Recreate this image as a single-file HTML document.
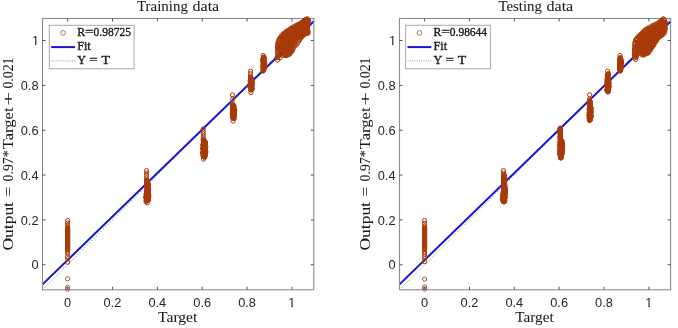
<!DOCTYPE html>
<html><head><meta charset="utf-8"><title>Regression plots</title>
<style>html,body{margin:0;padding:0;background:#fff;width:678px;height:328px;overflow:hidden}svg{display:block}</style>
</head><body>
<svg width="678" height="328" viewBox="0 0 678 328">
<rect width="678" height="328" fill="#fff"/>
<line x1="42.53" y1="289.87" x2="313.88" y2="18.52" stroke="#6e6e6e" stroke-width="1" stroke-dasharray="1 2.3"/>
<line x1="42.53" y1="284.4" x2="313.88" y2="21.2" stroke="#1414d4" stroke-width="2"/>
<rect x="42.5" y="18.5" width="271.25" height="271.25" fill="none" stroke="#8c8c8c" stroke-width="1.1"/>
<path d="M67.65 289.75v-3M67.65 18.5v3M42.5 264.75h3M313.75 264.75h-3M112.5 289.75v-3M112.5 18.5v3M42.5 219.9h3M313.75 219.9h-3M157.35 289.75v-3M157.35 18.5v3M42.5 175.05h3M313.75 175.05h-3M202.2 289.75v-3M202.2 18.5v3M42.5 130.2h3M313.75 130.2h-3M247.05 289.75v-3M247.05 18.5v3M42.5 85.35h3M313.75 85.35h-3M291.9 289.75v-3M291.9 18.5v3M42.5 40.5h3M313.75 40.5h-3" stroke="#555" stroke-width="1" fill="none"/>
<g fill="none" stroke="#a83a08" stroke-width="1.0"><circle cx="67.65" cy="220.5" r="2.1"/><circle cx="67.65" cy="223" r="2.1"/><circle cx="67.65" cy="225.4" r="2.1"/><circle cx="67.65" cy="227.2" r="2.1"/><circle cx="67.65" cy="227.8" r="2.1"/><circle cx="67.65" cy="228.4" r="2.1"/><circle cx="67.65" cy="229" r="2.1"/><circle cx="67.65" cy="229.6" r="2.1"/><circle cx="67.65" cy="230.2" r="2.1"/><circle cx="67.65" cy="230.8" r="2.1"/><circle cx="67.65" cy="231.4" r="2.1"/><circle cx="67.65" cy="232" r="2.1"/><circle cx="67.65" cy="232.6" r="2.1"/><circle cx="67.65" cy="233.2" r="2.1"/><circle cx="67.65" cy="233.8" r="2.1"/><circle cx="67.65" cy="234.4" r="2.1"/><circle cx="67.65" cy="235" r="2.1"/><circle cx="67.65" cy="235.6" r="2.1"/><circle cx="67.65" cy="236.2" r="2.1"/><circle cx="67.65" cy="236.8" r="2.1"/><circle cx="67.65" cy="237.4" r="2.1"/><circle cx="67.65" cy="238" r="2.1"/><circle cx="67.65" cy="238.6" r="2.1"/><circle cx="67.65" cy="239.2" r="2.1"/><circle cx="67.65" cy="239.8" r="2.1"/><circle cx="67.65" cy="240.4" r="2.1"/><circle cx="67.65" cy="241" r="2.1"/><circle cx="67.65" cy="241.6" r="2.1"/><circle cx="67.65" cy="242.2" r="2.1"/><circle cx="67.65" cy="242.8" r="2.1"/><circle cx="67.65" cy="243.4" r="2.1"/><circle cx="67.65" cy="244" r="2.1"/><circle cx="67.65" cy="244.6" r="2.1"/><circle cx="67.65" cy="245.2" r="2.1"/><circle cx="67.65" cy="245.8" r="2.1"/><circle cx="67.65" cy="246.4" r="2.1"/><circle cx="67.65" cy="247" r="2.1"/><circle cx="67.65" cy="247.6" r="2.1"/><circle cx="67.65" cy="248.2" r="2.1"/><circle cx="67.65" cy="248.8" r="2.1"/><circle cx="67.65" cy="249.4" r="2.1"/><circle cx="67.65" cy="250" r="2.1"/><circle cx="67.65" cy="251.9" r="2.1"/><circle cx="67.65" cy="253.8" r="2.1"/><circle cx="67.65" cy="256.8" r="2.1"/><circle cx="67.65" cy="258.8" r="2.1"/><circle cx="67.65" cy="262.3" r="2.1"/><circle cx="146.5" cy="170.6" r="2.1"/><circle cx="146.6" cy="173" r="2.1"/><circle cx="146.5" cy="175.4" r="2.1"/><circle cx="146.6" cy="177.8" r="2.1"/><circle cx="146.7" cy="180" r="2.1"/><circle cx="147.01" cy="180.71" r="2.1"/><circle cx="146.92" cy="180.5" r="2.1"/><circle cx="146.7" cy="181.01" r="2.1"/><circle cx="147.17" cy="181.15" r="2.1"/><circle cx="146.9" cy="181.3" r="2.1"/><circle cx="147.48" cy="181.6" r="2.1"/><circle cx="147.79" cy="182.23" r="2.1"/><circle cx="147.39" cy="182.06" r="2.1"/><circle cx="146.67" cy="182.51" r="2.1"/><circle cx="146.73" cy="182.35" r="2.1"/><circle cx="146.74" cy="182.98" r="2.1"/><circle cx="147.3" cy="183.17" r="2.1"/><circle cx="147.66" cy="183.5" r="2.1"/><circle cx="147.7" cy="183.48" r="2.1"/><circle cx="148.3" cy="184.25" r="2.1"/><circle cx="148.06" cy="184.1" r="2.1"/><circle cx="147.15" cy="184.39" r="2.1"/><circle cx="146.91" cy="184.63" r="2.1"/><circle cx="148.1" cy="184.94" r="2.1"/><circle cx="148.27" cy="185.17" r="2.1"/><circle cx="147.13" cy="185.71" r="2.1"/><circle cx="147.53" cy="185.74" r="2.1"/><circle cx="147.42" cy="185.29" r="2.1"/><circle cx="148.02" cy="185.88" r="2.1"/><circle cx="146.94" cy="185.92" r="2.1"/><circle cx="148" cy="186.31" r="2.1"/><circle cx="147.19" cy="186.3" r="2.1"/><circle cx="148.08" cy="186.84" r="2.1"/><circle cx="147.7" cy="186.97" r="2.1"/><circle cx="147.11" cy="187.12" r="2.1"/><circle cx="147.84" cy="187.31" r="2.1"/><circle cx="147.48" cy="187.36" r="2.1"/><circle cx="147.24" cy="187.74" r="2.1"/><circle cx="147.3" cy="188.19" r="2.1"/><circle cx="147.15" cy="187.95" r="2.1"/><circle cx="147.86" cy="188.3" r="2.1"/><circle cx="148.44" cy="188.36" r="2.1"/><circle cx="148.09" cy="188.91" r="2.1"/><circle cx="147.3" cy="188.79" r="2.1"/><circle cx="146.95" cy="189.04" r="2.1"/><circle cx="147.82" cy="189.44" r="2.1"/><circle cx="147.57" cy="189.73" r="2.1"/><circle cx="147.62" cy="189.54" r="2.1"/><circle cx="147.08" cy="189.83" r="2.1"/><circle cx="148.36" cy="190.16" r="2.1"/><circle cx="147.03" cy="190.62" r="2.1"/><circle cx="148.43" cy="190.35" r="2.1"/><circle cx="148.45" cy="190.69" r="2.1"/><circle cx="147.43" cy="190.8" r="2.1"/><circle cx="146.68" cy="191.23" r="2.1"/><circle cx="147.99" cy="191.38" r="2.1"/><circle cx="148.23" cy="191.55" r="2.1"/><circle cx="147.14" cy="191.34" r="2.1"/><circle cx="146.6" cy="191.86" r="2.1"/><circle cx="147.67" cy="192.18" r="2.1"/><circle cx="147.02" cy="192.71" r="2.1"/><circle cx="146.84" cy="192.26" r="2.1"/><circle cx="146.99" cy="192.47" r="2.1"/><circle cx="146.72" cy="192.93" r="2.1"/><circle cx="147.66" cy="192.82" r="2.1"/><circle cx="147.16" cy="193.2" r="2.1"/><circle cx="147.86" cy="193.6" r="2.1"/><circle cx="147.68" cy="193.32" r="2.1"/><circle cx="146.2" cy="194.21" r="2.1"/><circle cx="147.96" cy="194.23" r="2.1"/><circle cx="146.21" cy="194.07" r="2.1"/><circle cx="148.04" cy="194.41" r="2.1"/><circle cx="148.76" cy="194.29" r="2.1"/><circle cx="147.54" cy="194.62" r="2.1"/><circle cx="148.06" cy="195.1" r="2.1"/><circle cx="148.21" cy="195.21" r="2.1"/><circle cx="146.98" cy="195.09" r="2.1"/><circle cx="148.45" cy="195.46" r="2.1"/><circle cx="148.21" cy="195.68" r="2.1"/><circle cx="147.58" cy="195.56" r="2.1"/><circle cx="147.6" cy="196.05" r="2.1"/><circle cx="146.09" cy="196.07" r="2.1"/><circle cx="148.83" cy="196.19" r="2.1"/><circle cx="146.98" cy="196.62" r="2.1"/><circle cx="147.57" cy="196.47" r="2.1"/><circle cx="148.37" cy="196.29" r="2.1"/><circle cx="145.8" cy="197.05" r="2.1"/><circle cx="147.24" cy="196.87" r="2.1"/><circle cx="147.93" cy="197" r="2.1"/><circle cx="148.6" cy="197.38" r="2.1"/><circle cx="145.78" cy="197.4" r="2.1"/><circle cx="147.85" cy="197.35" r="2.1"/><circle cx="148.51" cy="198.08" r="2.1"/><circle cx="147.11" cy="198.2" r="2.1"/><circle cx="146.77" cy="198.08" r="2.1"/><circle cx="146.38" cy="197.97" r="2.1"/><circle cx="148.48" cy="198.69" r="2.1"/><circle cx="146.94" cy="198.54" r="2.1"/><circle cx="146.75" cy="198.32" r="2.1"/><circle cx="148.22" cy="199.17" r="2.1"/><circle cx="147.87" cy="199.23" r="2.1"/><circle cx="146.64" cy="198.83" r="2.1"/><circle cx="146.66" cy="199.36" r="2.1"/><circle cx="147.03" cy="199.56" r="2.1"/><circle cx="147.25" cy="199.41" r="2.1"/><circle cx="148.52" cy="199.98" r="2.1"/><circle cx="146.15" cy="199.77" r="2.1"/><circle cx="148.23" cy="199.77" r="2.1"/><circle cx="147.43" cy="200.4" r="2.1"/><circle cx="147.99" cy="200.26" r="2.1"/><circle cx="146.33" cy="200.48" r="2.1"/><circle cx="147.3" cy="202.9" r="2.1"/><circle cx="146" cy="201.8" r="2.1"/><circle cx="203.2" cy="129" r="2.1"/><circle cx="203.3" cy="131.4" r="2.1"/><circle cx="203.2" cy="133.8" r="2.1"/><circle cx="203.3" cy="136.2" r="2.1"/><circle cx="203.3" cy="138.5" r="2.1"/><circle cx="203.91" cy="139.87" r="2.1"/><circle cx="203.15" cy="139.77" r="2.1"/><circle cx="203.64" cy="140.56" r="2.1"/><circle cx="203.93" cy="140.65" r="2.1"/><circle cx="204.2" cy="140.85" r="2.1"/><circle cx="203.83" cy="140.84" r="2.1"/><circle cx="203.98" cy="141.61" r="2.1"/><circle cx="203.37" cy="141.39" r="2.1"/><circle cx="203.72" cy="141.6" r="2.1"/><circle cx="204.48" cy="142.13" r="2.1"/><circle cx="203.95" cy="142.15" r="2.1"/><circle cx="205.18" cy="141.79" r="2.1"/><circle cx="204.88" cy="142.31" r="2.1"/><circle cx="204.18" cy="142.56" r="2.1"/><circle cx="205.38" cy="142.44" r="2.1"/><circle cx="205.32" cy="143.15" r="2.1"/><circle cx="205.49" cy="142.98" r="2.1"/><circle cx="204.71" cy="142.85" r="2.1"/><circle cx="205.18" cy="143.57" r="2.1"/><circle cx="204.9" cy="143.36" r="2.1"/><circle cx="205.4" cy="143.74" r="2.1"/><circle cx="204.4" cy="144.15" r="2.1"/><circle cx="203.79" cy="144.2" r="2.1"/><circle cx="205.3" cy="143.92" r="2.1"/><circle cx="204.13" cy="144.53" r="2.1"/><circle cx="205.07" cy="144.49" r="2.1"/><circle cx="202.94" cy="144.65" r="2.1"/><circle cx="203.04" cy="144.65" r="2.1"/><circle cx="203.81" cy="145.14" r="2.1"/><circle cx="203.24" cy="144.82" r="2.1"/><circle cx="204.35" cy="145.11" r="2.1"/><circle cx="205.3" cy="145.09" r="2.1"/><circle cx="204.28" cy="145.72" r="2.1"/><circle cx="203.05" cy="145.36" r="2.1"/><circle cx="204.38" cy="145.4" r="2.1"/><circle cx="204.73" cy="146.01" r="2.1"/><circle cx="205.36" cy="146.03" r="2.1"/><circle cx="203.72" cy="145.94" r="2.1"/><circle cx="205.56" cy="146.35" r="2.1"/><circle cx="205.4" cy="146.73" r="2.1"/><circle cx="204.38" cy="146.54" r="2.1"/><circle cx="204.41" cy="147" r="2.1"/><circle cx="204.64" cy="146.76" r="2.1"/><circle cx="205.8" cy="147.01" r="2.1"/><circle cx="203.98" cy="147.15" r="2.1"/><circle cx="204.27" cy="147.6" r="2.1"/><circle cx="202.91" cy="147.52" r="2.1"/><circle cx="204.02" cy="147.73" r="2.1"/><circle cx="203.56" cy="147.99" r="2.1"/><circle cx="203.11" cy="147.97" r="2.1"/><circle cx="205.31" cy="148.2" r="2.1"/><circle cx="203.72" cy="148.35" r="2.1"/><circle cx="204.68" cy="148.71" r="2.1"/><circle cx="203.11" cy="148.64" r="2.1"/><circle cx="202.77" cy="148.35" r="2.1"/><circle cx="204.9" cy="148.91" r="2.1"/><circle cx="203.84" cy="149.06" r="2.1"/><circle cx="203.04" cy="149.12" r="2.1"/><circle cx="203.09" cy="149.01" r="2.1"/><circle cx="203.33" cy="149.52" r="2.1"/><circle cx="204.1" cy="149.44" r="2.1"/><circle cx="204.02" cy="149.51" r="2.1"/><circle cx="203.21" cy="149.35" r="2.1"/><circle cx="204.74" cy="150.01" r="2.1"/><circle cx="205.42" cy="150.06" r="2.1"/><circle cx="205.44" cy="149.87" r="2.1"/><circle cx="205.29" cy="150.7" r="2.1"/><circle cx="203.71" cy="150.41" r="2.1"/><circle cx="205.65" cy="150.36" r="2.1"/><circle cx="205.54" cy="150.82" r="2.1"/><circle cx="203.47" cy="151.11" r="2.1"/><circle cx="203.53" cy="150.8" r="2.1"/><circle cx="204.05" cy="151.64" r="2.1"/><circle cx="203.1" cy="151.45" r="2.1"/><circle cx="204.89" cy="151.26" r="2.1"/><circle cx="204.88" cy="152.21" r="2.1"/><circle cx="205.8" cy="151.81" r="2.1"/><circle cx="204.32" cy="152.13" r="2.1"/><circle cx="204.31" cy="152.09" r="2.1"/><circle cx="202.93" cy="152.3" r="2.1"/><circle cx="202.82" cy="152.53" r="2.1"/><circle cx="204.35" cy="152.53" r="2.1"/><circle cx="203.17" cy="152.34" r="2.1"/><circle cx="205.39" cy="153.25" r="2.1"/><circle cx="205.67" cy="152.8" r="2.1"/><circle cx="202.9" cy="153.23" r="2.1"/><circle cx="204.18" cy="153.13" r="2.1"/><circle cx="204.15" cy="153.51" r="2.1"/><circle cx="204.04" cy="153.55" r="2.1"/><circle cx="202.77" cy="153.6" r="2.1"/><circle cx="205.29" cy="153.34" r="2.1"/><circle cx="204.88" cy="153.95" r="2.1"/><circle cx="203.33" cy="153.83" r="2.1"/><circle cx="204.23" cy="153.76" r="2.1"/><circle cx="204.96" cy="154.6" r="2.1"/><circle cx="205.12" cy="154.56" r="2.1"/><circle cx="203.89" cy="154.55" r="2.1"/><circle cx="205.31" cy="155.15" r="2.1"/><circle cx="203.49" cy="155.21" r="2.1"/><circle cx="204.71" cy="155.14" r="2.1"/><circle cx="203.82" cy="155.7" r="2.1"/><circle cx="204.94" cy="155.6" r="2.1"/><circle cx="204.67" cy="155.63" r="2.1"/><circle cx="204.48" cy="155.79" r="2.1"/><circle cx="203.65" cy="155.98" r="2.1"/><circle cx="202.93" cy="155.93" r="2.1"/><circle cx="204.19" cy="156.37" r="2.1"/><circle cx="204.83" cy="156.58" r="2.1"/><circle cx="204.18" cy="157.03" r="2.1"/><circle cx="203.95" cy="156.94" r="2.1"/><circle cx="204.81" cy="157.07" r="2.1"/><circle cx="203.5" cy="159.2" r="2.1"/><circle cx="232.4" cy="94.9" r="2.1"/><circle cx="232.7" cy="98.9" r="2.1"/><circle cx="232.2" cy="102.8" r="2.1"/><circle cx="233.1" cy="121" r="2.1"/><circle cx="233.24" cy="105.04" r="2.1"/><circle cx="232.43" cy="104.86" r="2.1"/><circle cx="232.72" cy="105.25" r="2.1"/><circle cx="232.46" cy="105.15" r="2.1"/><circle cx="232.54" cy="105.68" r="2.1"/><circle cx="233.65" cy="105.83" r="2.1"/><circle cx="233.88" cy="106.33" r="2.1"/><circle cx="233.92" cy="106.37" r="2.1"/><circle cx="232.53" cy="106.85" r="2.1"/><circle cx="233.67" cy="106.57" r="2.1"/><circle cx="232.69" cy="107.29" r="2.1"/><circle cx="232.71" cy="107.3" r="2.1"/><circle cx="232.51" cy="108.02" r="2.1"/><circle cx="233.22" cy="107.81" r="2.1"/><circle cx="233.17" cy="108.19" r="2.1"/><circle cx="233.78" cy="108.33" r="2.1"/><circle cx="233" cy="108.41" r="2.1"/><circle cx="232.43" cy="108.67" r="2.1"/><circle cx="232.5" cy="108.63" r="2.1"/><circle cx="234.09" cy="108.74" r="2.1"/><circle cx="234.12" cy="109.08" r="2.1"/><circle cx="234.67" cy="109.52" r="2.1"/><circle cx="234.48" cy="109.76" r="2.1"/><circle cx="233.49" cy="110.04" r="2.1"/><circle cx="232.95" cy="109.81" r="2.1"/><circle cx="234.06" cy="110.28" r="2.1"/><circle cx="234.65" cy="110.46" r="2.1"/><circle cx="232.64" cy="110.86" r="2.1"/><circle cx="233.43" cy="110.65" r="2.1"/><circle cx="232.49" cy="110.81" r="2.1"/><circle cx="233.4" cy="111.38" r="2.1"/><circle cx="233.43" cy="111.18" r="2.1"/><circle cx="233.72" cy="111.26" r="2.1"/><circle cx="233.6" cy="112.05" r="2.1"/><circle cx="234.59" cy="111.92" r="2.1"/><circle cx="232.91" cy="111.61" r="2.1"/><circle cx="234.19" cy="112.36" r="2.1"/><circle cx="233.19" cy="112.19" r="2.1"/><circle cx="233.67" cy="112.85" r="2.1"/><circle cx="233.83" cy="112.93" r="2.1"/><circle cx="232.79" cy="112.67" r="2.1"/><circle cx="234.5" cy="113.49" r="2.1"/><circle cx="232.42" cy="113.08" r="2.1"/><circle cx="233.33" cy="113.86" r="2.1"/><circle cx="232.56" cy="113.82" r="2.1"/><circle cx="232.49" cy="113.59" r="2.1"/><circle cx="233.63" cy="114.37" r="2.1"/><circle cx="233.2" cy="114.29" r="2.1"/><circle cx="232.81" cy="114.22" r="2.1"/><circle cx="234.31" cy="114.59" r="2.1"/><circle cx="232.59" cy="114.95" r="2.1"/><circle cx="233.8" cy="114.93" r="2.1"/><circle cx="233.31" cy="115.18" r="2.1"/><circle cx="234.21" cy="115.23" r="2.1"/><circle cx="233.84" cy="115.54" r="2.1"/><circle cx="233.57" cy="115.92" r="2.1"/><circle cx="234.39" cy="115.76" r="2.1"/><circle cx="233.18" cy="115.6" r="2.1"/><circle cx="232.57" cy="116.09" r="2.1"/><circle cx="233.58" cy="116.29" r="2.1"/><circle cx="233.03" cy="116.94" r="2.1"/><circle cx="232.6" cy="116.66" r="2.1"/><circle cx="232.64" cy="117.2" r="2.1"/><circle cx="233.81" cy="117.4" r="2.1"/><circle cx="232.78" cy="117.73" r="2.1"/><circle cx="233.77" cy="117.73" r="2.1"/><circle cx="232.73" cy="117.9" r="2.1"/><circle cx="234.02" cy="118.52" r="2.1"/><circle cx="234.01" cy="118.27" r="2.1"/><circle cx="250.6" cy="71.2" r="2.1"/><circle cx="250.5" cy="73.6" r="2.1"/><circle cx="250.4" cy="76" r="2.1"/><circle cx="250.8" cy="77.71" r="2.1"/><circle cx="251.52" cy="78.5" r="2.1"/><circle cx="250.72" cy="78.23" r="2.1"/><circle cx="250.84" cy="78.75" r="2.1"/><circle cx="250.87" cy="78.65" r="2.1"/><circle cx="251.47" cy="79.32" r="2.1"/><circle cx="251.53" cy="79.33" r="2.1"/><circle cx="251.47" cy="79.99" r="2.1"/><circle cx="250.69" cy="79.56" r="2.1"/><circle cx="251.07" cy="79.82" r="2.1"/><circle cx="251.9" cy="80.38" r="2.1"/><circle cx="251.6" cy="80.08" r="2.1"/><circle cx="251.63" cy="80.59" r="2.1"/><circle cx="250.2" cy="80.92" r="2.1"/><circle cx="251.86" cy="80.59" r="2.1"/><circle cx="250.26" cy="81.42" r="2.1"/><circle cx="251.38" cy="81.17" r="2.1"/><circle cx="250.43" cy="81.43" r="2.1"/><circle cx="251.69" cy="81.75" r="2.1"/><circle cx="250.66" cy="82.03" r="2.1"/><circle cx="251.47" cy="81.8" r="2.1"/><circle cx="251.61" cy="82.4" r="2.1"/><circle cx="252.09" cy="82.26" r="2.1"/><circle cx="251.87" cy="82.38" r="2.1"/><circle cx="251.83" cy="82.97" r="2.1"/><circle cx="252.03" cy="83.03" r="2.1"/><circle cx="251.42" cy="82.81" r="2.1"/><circle cx="251.82" cy="83.26" r="2.1"/><circle cx="250.9" cy="83.12" r="2.1"/><circle cx="251.68" cy="83.55" r="2.1"/><circle cx="250.32" cy="83.65" r="2.1"/><circle cx="250.93" cy="83.7" r="2.1"/><circle cx="252.23" cy="83.58" r="2.1"/><circle cx="250.22" cy="84.37" r="2.1"/><circle cx="251.77" cy="84.14" r="2.1"/><circle cx="250.1" cy="84.28" r="2.1"/><circle cx="252.09" cy="84.57" r="2.1"/><circle cx="250.24" cy="84.64" r="2.1"/><circle cx="250.49" cy="84.67" r="2.1"/><circle cx="251.38" cy="85.16" r="2.1"/><circle cx="250.44" cy="85.19" r="2.1"/><circle cx="250.41" cy="85.43" r="2.1"/><circle cx="251.29" cy="85.96" r="2.1"/><circle cx="251.13" cy="85.68" r="2.1"/><circle cx="252.05" cy="86.01" r="2.1"/><circle cx="251.3" cy="86.53" r="2.1"/><circle cx="251.15" cy="86.16" r="2.1"/><circle cx="250.2" cy="86.52" r="2.1"/><circle cx="250.96" cy="86.81" r="2.1"/><circle cx="251.24" cy="86.69" r="2.1"/><circle cx="251.56" cy="87.17" r="2.1"/><circle cx="250.18" cy="87.29" r="2.1"/><circle cx="251.87" cy="87.91" r="2.1"/><circle cx="251.47" cy="87.63" r="2.1"/><circle cx="250.52" cy="87.71" r="2.1"/><circle cx="251.98" cy="88.31" r="2.1"/><circle cx="251.51" cy="88.55" r="2.1"/><circle cx="250.77" cy="88.32" r="2.1"/><circle cx="251.72" cy="88.55" r="2.1"/><circle cx="251.82" cy="88.97" r="2.1"/><circle cx="251.82" cy="88.59" r="2.1"/><circle cx="251.57" cy="89.1" r="2.1"/><circle cx="251.16" cy="89.28" r="2.1"/><circle cx="251.99" cy="89.34" r="2.1"/><circle cx="250.85" cy="89.94" r="2.1"/><circle cx="251.03" cy="90.01" r="2.1"/><circle cx="250.9" cy="92.6" r="2.1"/><circle cx="263.2" cy="55.5" r="2.1"/><circle cx="263.91" cy="57.15" r="2.1"/><circle cx="263.6" cy="57.31" r="2.1"/><circle cx="264" cy="57.71" r="2.1"/><circle cx="263.33" cy="57.59" r="2.1"/><circle cx="263.54" cy="58.41" r="2.1"/><circle cx="263.38" cy="58.39" r="2.1"/><circle cx="263.43" cy="58.78" r="2.1"/><circle cx="264.38" cy="58.96" r="2.1"/><circle cx="263.86" cy="58.56" r="2.1"/><circle cx="264.01" cy="59.17" r="2.1"/><circle cx="263.74" cy="59.28" r="2.1"/><circle cx="262.72" cy="59.55" r="2.1"/><circle cx="263.05" cy="59.86" r="2.1"/><circle cx="263.22" cy="59.74" r="2.1"/><circle cx="263.23" cy="60.22" r="2.1"/><circle cx="263.43" cy="60.38" r="2.1"/><circle cx="263.14" cy="60.15" r="2.1"/><circle cx="263.31" cy="61.02" r="2.1"/><circle cx="263.8" cy="60.91" r="2.1"/><circle cx="264.36" cy="61.1" r="2.1"/><circle cx="262.92" cy="61.1" r="2.1"/><circle cx="264.04" cy="61.4" r="2.1"/><circle cx="263.47" cy="61.97" r="2.1"/><circle cx="263.87" cy="61.6" r="2.1"/><circle cx="263.11" cy="61.63" r="2.1"/><circle cx="263.49" cy="62.09" r="2.1"/><circle cx="264.57" cy="62.26" r="2.1"/><circle cx="263.71" cy="62.37" r="2.1"/><circle cx="264.37" cy="62.74" r="2.1"/><circle cx="263.34" cy="62.76" r="2.1"/><circle cx="263.5" cy="63.4" r="2.1"/><circle cx="264.72" cy="63.44" r="2.1"/><circle cx="264.04" cy="63.35" r="2.1"/><circle cx="263.36" cy="63.72" r="2.1"/><circle cx="264.03" cy="63.6" r="2.1"/><circle cx="263.46" cy="63.8" r="2.1"/><circle cx="264.4" cy="64.36" r="2.1"/><circle cx="263" cy="64.43" r="2.1"/><circle cx="263.83" cy="64.73" r="2.1"/><circle cx="263.73" cy="64.62" r="2.1"/><circle cx="264.76" cy="65.31" r="2.1"/><circle cx="264.19" cy="65.47" r="2.1"/><circle cx="264.68" cy="65.86" r="2.1"/><circle cx="263.11" cy="65.59" r="2.1"/><circle cx="263.21" cy="65.84" r="2.1"/><circle cx="263.39" cy="66.51" r="2.1"/><circle cx="263.45" cy="66.28" r="2.1"/><circle cx="264.61" cy="66.62" r="2.1"/><circle cx="264.48" cy="66.82" r="2.1"/><circle cx="263.83" cy="66.83" r="2.1"/><circle cx="264.41" cy="67.55" r="2.1"/><circle cx="264.25" cy="67.35" r="2.1"/><circle cx="263.02" cy="67.46" r="2.1"/><circle cx="264.32" cy="67.67" r="2.1"/><circle cx="263.78" cy="67.97" r="2.1"/><circle cx="263.71" cy="68.09" r="2.1"/><circle cx="262.92" cy="68.14" r="2.1"/><circle cx="264.23" cy="68.88" r="2.1"/><circle cx="263.34" cy="68.89" r="2.1"/><circle cx="263.43" cy="69.35" r="2.1"/><circle cx="263.97" cy="69.06" r="2.1"/><circle cx="263.52" cy="69.62" r="2.1"/><circle cx="263.43" cy="69.83" r="2.1"/><circle cx="263.52" cy="70.18" r="2.1"/><circle cx="263.57" cy="70.22" r="2.1"/><circle cx="262.94" cy="70.89" r="2.1"/><circle cx="263.05" cy="71.03" r="2.1"/><circle cx="293.77" cy="34.62" r="2.1"/><circle cx="300.29" cy="27.74" r="2.1"/><circle cx="296.9" cy="29.46" r="2.1"/><circle cx="286.7" cy="35.32" r="2.1"/><circle cx="285.57" cy="55.36" r="2.1"/><circle cx="294.61" cy="31.15" r="2.1"/><circle cx="304.62" cy="25.8" r="2.1"/><circle cx="283.99" cy="47.74" r="2.1"/><circle cx="293.24" cy="48.58" r="2.1"/><circle cx="294.31" cy="46.65" r="2.1"/><circle cx="306.05" cy="33.75" r="2.1"/><circle cx="287.63" cy="45.96" r="2.1"/><circle cx="289.31" cy="54.22" r="2.1"/><circle cx="294.57" cy="44.38" r="2.1"/><circle cx="291.34" cy="38.37" r="2.1"/><circle cx="306.51" cy="28.52" r="2.1"/><circle cx="301.68" cy="22.89" r="2.1"/><circle cx="286.96" cy="51.8" r="2.1"/><circle cx="284.73" cy="41.35" r="2.1"/><circle cx="288.06" cy="35.24" r="2.1"/><circle cx="306.42" cy="24.31" r="2.1"/><circle cx="284.51" cy="32.91" r="2.1"/><circle cx="301.76" cy="27.18" r="2.1"/><circle cx="281.23" cy="39.31" r="2.1"/><circle cx="291.64" cy="35.63" r="2.1"/><circle cx="282.6" cy="41.61" r="2.1"/><circle cx="304.09" cy="34.68" r="2.1"/><circle cx="290.13" cy="46.29" r="2.1"/><circle cx="288.68" cy="36.9" r="2.1"/><circle cx="295.26" cy="38.86" r="2.1"/><circle cx="297.73" cy="37.1" r="2.1"/><circle cx="286.76" cy="31.86" r="2.1"/><circle cx="277.66" cy="46.16" r="2.1"/><circle cx="277.87" cy="48.79" r="2.1"/><circle cx="283.03" cy="38.27" r="2.1"/><circle cx="299.63" cy="34.58" r="2.1"/><circle cx="294.08" cy="42.54" r="2.1"/><circle cx="287.71" cy="40.93" r="2.1"/><circle cx="278.92" cy="46.57" r="2.1"/><circle cx="285.94" cy="32.75" r="2.1"/><circle cx="299.39" cy="35.04" r="2.1"/><circle cx="295.65" cy="25.62" r="2.1"/><circle cx="286.14" cy="36.03" r="2.1"/><circle cx="307.13" cy="32.52" r="2.1"/><circle cx="286.84" cy="33.52" r="2.1"/><circle cx="286.42" cy="40.65" r="2.1"/><circle cx="289.7" cy="30.45" r="2.1"/><circle cx="298.42" cy="27.23" r="2.1"/><circle cx="289.54" cy="45.82" r="2.1"/><circle cx="304.4" cy="27.59" r="2.1"/><circle cx="306.24" cy="26.02" r="2.1"/><circle cx="305.14" cy="19.93" r="2.1"/><circle cx="294.76" cy="32.01" r="2.1"/><circle cx="308.35" cy="22.3" r="2.1"/><circle cx="298.61" cy="25.69" r="2.1"/><circle cx="292.02" cy="31.47" r="2.1"/><circle cx="289.19" cy="43.87" r="2.1"/><circle cx="286.79" cy="42.52" r="2.1"/><circle cx="299.66" cy="23.7" r="2.1"/><circle cx="307.54" cy="28.91" r="2.1"/><circle cx="302.34" cy="27.92" r="2.1"/><circle cx="278.96" cy="39.7" r="2.1"/><circle cx="296.58" cy="26.32" r="2.1"/><circle cx="284.45" cy="52.98" r="2.1"/><circle cx="303.22" cy="25.97" r="2.1"/><circle cx="296.36" cy="27.95" r="2.1"/><circle cx="278.13" cy="43.45" r="2.1"/><circle cx="304.59" cy="21.18" r="2.1"/><circle cx="307.27" cy="31.3" r="2.1"/><circle cx="297.44" cy="28.57" r="2.1"/><circle cx="284.62" cy="48.13" r="2.1"/><circle cx="296.76" cy="34.8" r="2.1"/><circle cx="280.04" cy="37.76" r="2.1"/><circle cx="286.8" cy="31.63" r="2.1"/><circle cx="300.62" cy="36.5" r="2.1"/><circle cx="289.05" cy="30.83" r="2.1"/><circle cx="300.94" cy="37.82" r="2.1"/><circle cx="285.53" cy="42.89" r="2.1"/><circle cx="285.79" cy="41.16" r="2.1"/><circle cx="286.42" cy="50.19" r="2.1"/><circle cx="289.8" cy="30.97" r="2.1"/><circle cx="307.03" cy="29.48" r="2.1"/><circle cx="301.16" cy="31.79" r="2.1"/><circle cx="306.93" cy="21.96" r="2.1"/><circle cx="278.9" cy="43.12" r="2.1"/><circle cx="292.27" cy="32.75" r="2.1"/><circle cx="300.44" cy="29.09" r="2.1"/><circle cx="292.36" cy="50.62" r="2.1"/><circle cx="278.58" cy="56.19" r="2.1"/><circle cx="294.98" cy="33.18" r="2.1"/><circle cx="290.51" cy="45.92" r="2.1"/><circle cx="283.37" cy="53.07" r="2.1"/><circle cx="284.54" cy="46.78" r="2.1"/><circle cx="308.38" cy="21.31" r="2.1"/><circle cx="298.45" cy="36.51" r="2.1"/><circle cx="288.45" cy="38.23" r="2.1"/><circle cx="302.21" cy="27.7" r="2.1"/><circle cx="287.59" cy="31.79" r="2.1"/><circle cx="293.01" cy="34.88" r="2.1"/><circle cx="296.85" cy="34.8" r="2.1"/><circle cx="280.71" cy="47.06" r="2.1"/><circle cx="281.27" cy="35.92" r="2.1"/><circle cx="285.01" cy="54.61" r="2.1"/><circle cx="303.57" cy="23.59" r="2.1"/><circle cx="297.5" cy="32.99" r="2.1"/><circle cx="307.17" cy="32.91" r="2.1"/><circle cx="293.73" cy="26.73" r="2.1"/><circle cx="294.61" cy="28.2" r="2.1"/><circle cx="289.35" cy="46.73" r="2.1"/><circle cx="277.52" cy="48.38" r="2.1"/><circle cx="282.38" cy="43" r="2.1"/><circle cx="303.36" cy="21.25" r="2.1"/><circle cx="278.17" cy="43.34" r="2.1"/><circle cx="280.93" cy="43.78" r="2.1"/><circle cx="308" cy="31.08" r="2.1"/><circle cx="283.01" cy="40.45" r="2.1"/><circle cx="298.54" cy="24.66" r="2.1"/><circle cx="297.08" cy="35.33" r="2.1"/><circle cx="290.4" cy="39.83" r="2.1"/><circle cx="297.66" cy="24.66" r="2.1"/><circle cx="297.33" cy="37.95" r="2.1"/><circle cx="305.68" cy="19.58" r="2.1"/><circle cx="300.01" cy="25.64" r="2.1"/><circle cx="299.73" cy="39.67" r="2.1"/><circle cx="308.54" cy="20.09" r="2.1"/><circle cx="288.82" cy="44" r="2.1"/><circle cx="293.27" cy="34.78" r="2.1"/><circle cx="305.52" cy="22.76" r="2.1"/><circle cx="277.54" cy="52.81" r="2.1"/><circle cx="283.13" cy="40.19" r="2.1"/><circle cx="295.11" cy="38.3" r="2.1"/><circle cx="290.67" cy="41.12" r="2.1"/><circle cx="306.57" cy="31.84" r="2.1"/><circle cx="286.31" cy="45.27" r="2.1"/><circle cx="304.65" cy="25.02" r="2.1"/><circle cx="283.32" cy="47.01" r="2.1"/><circle cx="295.66" cy="39.28" r="2.1"/><circle cx="285.52" cy="47.05" r="2.1"/><circle cx="306.76" cy="32.28" r="2.1"/><circle cx="288.8" cy="42.08" r="2.1"/><circle cx="277.79" cy="57.25" r="2.1"/><circle cx="290.16" cy="36.58" r="2.1"/><circle cx="289.94" cy="52.58" r="2.1"/><circle cx="304.2" cy="27.02" r="2.1"/><circle cx="289" cy="31.04" r="2.1"/><circle cx="295.84" cy="39.04" r="2.1"/><circle cx="302.12" cy="30.09" r="2.1"/><circle cx="289.54" cy="54.04" r="2.1"/><circle cx="279.01" cy="50.94" r="2.1"/><circle cx="280.48" cy="49.65" r="2.1"/><circle cx="279.44" cy="46.68" r="2.1"/><circle cx="277.58" cy="47.49" r="2.1"/><circle cx="297.76" cy="36.9" r="2.1"/><circle cx="285.25" cy="46.26" r="2.1"/><circle cx="304.9" cy="25.63" r="2.1"/><circle cx="283.55" cy="44.82" r="2.1"/><circle cx="307.32" cy="20.03" r="2.1"/><circle cx="290.54" cy="50.16" r="2.1"/><circle cx="286.11" cy="39.14" r="2.1"/><circle cx="281.41" cy="46.16" r="2.1"/><circle cx="304.74" cy="33.63" r="2.1"/><circle cx="290.52" cy="46.33" r="2.1"/><circle cx="306.48" cy="32.97" r="2.1"/><circle cx="279.4" cy="39.49" r="2.1"/><circle cx="291.8" cy="27.84" r="2.1"/><circle cx="299.06" cy="35.83" r="2.1"/><circle cx="295.86" cy="45.06" r="2.1"/><circle cx="302.06" cy="26.83" r="2.1"/><circle cx="279.34" cy="43.28" r="2.1"/><circle cx="287.77" cy="54.38" r="2.1"/><circle cx="283.64" cy="54.25" r="2.1"/><circle cx="301.73" cy="23.04" r="2.1"/><circle cx="293.12" cy="37.04" r="2.1"/><circle cx="301.85" cy="27.3" r="2.1"/><circle cx="291.53" cy="44.71" r="2.1"/><circle cx="293.45" cy="30.86" r="2.1"/><circle cx="290.6" cy="42.24" r="2.1"/><circle cx="285.1" cy="34.91" r="2.1"/><circle cx="279.02" cy="45.86" r="2.1"/><circle cx="282.66" cy="39.65" r="2.1"/><circle cx="288.52" cy="53.22" r="2.1"/><circle cx="283.99" cy="34.95" r="2.1"/><circle cx="285.55" cy="47.24" r="2.1"/><circle cx="283.62" cy="41.41" r="2.1"/><circle cx="305.06" cy="28.81" r="2.1"/><circle cx="292.79" cy="45.65" r="2.1"/><circle cx="292.44" cy="33.04" r="2.1"/><circle cx="281.31" cy="47.1" r="2.1"/><circle cx="291.31" cy="42.36" r="2.1"/><circle cx="305.99" cy="26.91" r="2.1"/><circle cx="307.74" cy="26.7" r="2.1"/><circle cx="284.58" cy="47.98" r="2.1"/><circle cx="287.47" cy="42.43" r="2.1"/><circle cx="289.92" cy="44.34" r="2.1"/><circle cx="284.21" cy="37.25" r="2.1"/><circle cx="307.47" cy="32.08" r="2.1"/><circle cx="291.91" cy="40.77" r="2.1"/><circle cx="289.49" cy="47.74" r="2.1"/><circle cx="298.84" cy="35.12" r="2.1"/><circle cx="285.03" cy="34.82" r="2.1"/><circle cx="284.76" cy="37.84" r="2.1"/><circle cx="301.3" cy="28.89" r="2.1"/><circle cx="301.95" cy="27.88" r="2.1"/><circle cx="289.6" cy="41.78" r="2.1"/><circle cx="285.27" cy="46.64" r="2.1"/><circle cx="295.82" cy="40.05" r="2.1"/><circle cx="283.31" cy="48.63" r="2.1"/><circle cx="279.41" cy="45.09" r="2.1"/><circle cx="288.59" cy="48.14" r="2.1"/><circle cx="285.21" cy="54.22" r="2.1"/><circle cx="302.05" cy="33.3" r="2.1"/><circle cx="283.5" cy="51.43" r="2.1"/><circle cx="287.23" cy="38.17" r="2.1"/><circle cx="302.28" cy="24.26" r="2.1"/><circle cx="279.63" cy="54.24" r="2.1"/><circle cx="295.86" cy="29.25" r="2.1"/><circle cx="297.67" cy="40.14" r="2.1"/><circle cx="290.98" cy="52.35" r="2.1"/><circle cx="305.97" cy="20.24" r="2.1"/><circle cx="281.51" cy="37.68" r="2.1"/><circle cx="277.42" cy="50.59" r="2.1"/><circle cx="295.49" cy="38.22" r="2.1"/><circle cx="281.14" cy="37.04" r="2.1"/><circle cx="297.41" cy="43.46" r="2.1"/><circle cx="284.19" cy="36.38" r="2.1"/><circle cx="289.65" cy="51.63" r="2.1"/><circle cx="304.52" cy="20.87" r="2.1"/><circle cx="297.35" cy="34.93" r="2.1"/><circle cx="281.64" cy="38.54" r="2.1"/><circle cx="307.3" cy="30.85" r="2.1"/><circle cx="293.93" cy="34.9" r="2.1"/><circle cx="298.14" cy="28.13" r="2.1"/><circle cx="302.99" cy="25.47" r="2.1"/><circle cx="279.74" cy="49.23" r="2.1"/><circle cx="296.96" cy="36.19" r="2.1"/><circle cx="293.17" cy="40.84" r="2.1"/><circle cx="295.39" cy="27.64" r="2.1"/><circle cx="291.18" cy="50.43" r="2.1"/><circle cx="285.62" cy="42.22" r="2.1"/><circle cx="282.09" cy="40.26" r="2.1"/><circle cx="298.57" cy="41.57" r="2.1"/><circle cx="302.35" cy="24.51" r="2.1"/><circle cx="292.15" cy="47.79" r="2.1"/><circle cx="305.15" cy="24.3" r="2.1"/><circle cx="306.05" cy="31.6" r="2.1"/><circle cx="287.2" cy="42.99" r="2.1"/><circle cx="282.07" cy="40.92" r="2.1"/><circle cx="279.33" cy="39.35" r="2.1"/><circle cx="293.37" cy="30.24" r="2.1"/><circle cx="286.98" cy="46.47" r="2.1"/><circle cx="288.77" cy="43.64" r="2.1"/><circle cx="291.02" cy="36.43" r="2.1"/><circle cx="289.92" cy="29.02" r="2.1"/><circle cx="291.26" cy="30.28" r="2.1"/><circle cx="282.9" cy="50.53" r="2.1"/><circle cx="304.6" cy="27.61" r="2.1"/><circle cx="293.61" cy="41.38" r="2.1"/><circle cx="278.16" cy="41.77" r="2.1"/><circle cx="287.08" cy="34.69" r="2.1"/><circle cx="298.5" cy="36.51" r="2.1"/><circle cx="289.95" cy="37.3" r="2.1"/><circle cx="299.03" cy="36.96" r="2.1"/><circle cx="281.33" cy="50.26" r="2.1"/><circle cx="281.93" cy="42.39" r="2.1"/><circle cx="289.79" cy="32.67" r="2.1"/><circle cx="306.89" cy="26.29" r="2.1"/><circle cx="277.67" cy="55.03" r="2.1"/><circle cx="299.07" cy="25.83" r="2.1"/><circle cx="299.59" cy="28.55" r="2.1"/><circle cx="302.05" cy="33.57" r="2.1"/><circle cx="286.46" cy="51.55" r="2.1"/><circle cx="308.05" cy="24.5" r="2.1"/><circle cx="301.57" cy="22.58" r="2.1"/><circle cx="306.5" cy="22.15" r="2.1"/><circle cx="299.73" cy="28.6" r="2.1"/><circle cx="306.94" cy="29.85" r="2.1"/><circle cx="286.35" cy="48.95" r="2.1"/><circle cx="290.11" cy="31.86" r="2.1"/><circle cx="292.9" cy="29.69" r="2.1"/><circle cx="293.51" cy="38.48" r="2.1"/><circle cx="300.36" cy="27.03" r="2.1"/><circle cx="286.81" cy="38.55" r="2.1"/><circle cx="301.5" cy="36.52" r="2.1"/><circle cx="304.48" cy="27.93" r="2.1"/><circle cx="291.73" cy="50.9" r="2.1"/><circle cx="282.83" cy="49.16" r="2.1"/><circle cx="292.15" cy="43.09" r="2.1"/><circle cx="293.36" cy="32.15" r="2.1"/><circle cx="289.5" cy="37.26" r="2.1"/><circle cx="285.66" cy="41.72" r="2.1"/><circle cx="286.11" cy="54.05" r="2.1"/><circle cx="307.31" cy="19.22" r="2.1"/><circle cx="286.29" cy="31.58" r="2.1"/><circle cx="285.31" cy="37.45" r="2.1"/><circle cx="294.96" cy="33.7" r="2.1"/><circle cx="281.61" cy="53.4" r="2.1"/><circle cx="298.83" cy="32.31" r="2.1"/><circle cx="299.43" cy="27.2" r="2.1"/><circle cx="286.04" cy="43.72" r="2.1"/><circle cx="299.21" cy="31.92" r="2.1"/><circle cx="301.74" cy="31.44" r="2.1"/><circle cx="282.74" cy="34.26" r="2.1"/><circle cx="285.59" cy="33.03" r="2.1"/><circle cx="289.18" cy="46.7" r="2.1"/><circle cx="285.46" cy="33.12" r="2.1"/><circle cx="290.64" cy="29.62" r="2.1"/><circle cx="284.25" cy="49.92" r="2.1"/><circle cx="303.55" cy="29.84" r="2.1"/><circle cx="294.34" cy="41.5" r="2.1"/><circle cx="305.6" cy="31.28" r="2.1"/><circle cx="295.04" cy="28.99" r="2.1"/><circle cx="303.91" cy="24.82" r="2.1"/><circle cx="289.92" cy="44.93" r="2.1"/><circle cx="297" cy="38.45" r="2.1"/><circle cx="284.73" cy="41.52" r="2.1"/><circle cx="289.16" cy="44.86" r="2.1"/><circle cx="305.32" cy="28.59" r="2.1"/><circle cx="296.67" cy="31.27" r="2.1"/><circle cx="297.88" cy="27.14" r="2.1"/><circle cx="292.7" cy="28.21" r="2.1"/><circle cx="293.87" cy="38.08" r="2.1"/><circle cx="299.09" cy="31.35" r="2.1"/><circle cx="283.79" cy="53.09" r="2.1"/><circle cx="287.69" cy="55.08" r="2.1"/><circle cx="293.12" cy="35.39" r="2.1"/><circle cx="289.08" cy="46.95" r="2.1"/><circle cx="293.8" cy="39.24" r="2.1"/><circle cx="289.55" cy="43.7" r="2.1"/><circle cx="296.22" cy="37.11" r="2.1"/><circle cx="283.32" cy="51.86" r="2.1"/><circle cx="307.34" cy="24.39" r="2.1"/><circle cx="305.1" cy="27.09" r="2.1"/><circle cx="304.61" cy="29.95" r="2.1"/><circle cx="297.62" cy="33.37" r="2.1"/><circle cx="302.56" cy="34.21" r="2.1"/><circle cx="277.79" cy="43.94" r="2.1"/><circle cx="287.17" cy="46.68" r="2.1"/><circle cx="298.51" cy="25.46" r="2.1"/><circle cx="289.97" cy="44.1" r="2.1"/><circle cx="290.67" cy="52.29" r="2.1"/><circle cx="291.17" cy="29.03" r="2.1"/><circle cx="284.35" cy="42.93" r="2.1"/><circle cx="297.78" cy="27.59" r="2.1"/><circle cx="286.54" cy="45.86" r="2.1"/><circle cx="308.14" cy="33.12" r="2.1"/><circle cx="283.66" cy="43.73" r="2.1"/><circle cx="285.52" cy="39.15" r="2.1"/><circle cx="289.97" cy="44.09" r="2.1"/><circle cx="297.04" cy="29.64" r="2.1"/><circle cx="288.11" cy="30.3" r="2.1"/><circle cx="282.69" cy="50.98" r="2.1"/><circle cx="307.07" cy="18.86" r="2.1"/><circle cx="302.52" cy="36.25" r="2.1"/><circle cx="300.84" cy="33.51" r="2.1"/><circle cx="278.17" cy="48.5" r="2.1"/><circle cx="287.54" cy="48.81" r="2.1"/><circle cx="305.35" cy="22.23" r="2.1"/><circle cx="283.2" cy="37.07" r="2.1"/><circle cx="302.28" cy="28.71" r="2.1"/><circle cx="291.84" cy="45.49" r="2.1"/><circle cx="294.35" cy="31.91" r="2.1"/><circle cx="296.11" cy="37.09" r="2.1"/><circle cx="299.48" cy="36.25" r="2.1"/><circle cx="279.85" cy="48.53" r="2.1"/><circle cx="287.8" cy="32.29" r="2.1"/><circle cx="304.75" cy="25.98" r="2.1"/><circle cx="277.4" cy="60.1" r="2.1"/><circle cx="279.9" cy="57.9" r="2.1"/><circle cx="277" cy="57.6" r="2.1"/><circle cx="283.6" cy="55.4" r="2.1"/><circle cx="286.2" cy="55.6" r="2.1"/></g>
<g fill="none" stroke="#946048" stroke-width="1.0"><circle cx="67.65" cy="278.8" r="2.1"/><circle cx="67.65" cy="287.4" r="2.1"/><circle cx="67.65" cy="289.2" r="2.1"/></g>
<defs><clipPath id="c42x"><rect x="283.9" y="290" width="16" height="16"/><rect x="291.45" y="305" width="1.6" height="4"/></clipPath><clipPath id="c42y"><rect x="27.2" y="28" width="14" height="16"/><rect x="34.9" y="43" width="1.4" height="4"/></clipPath></defs>
<g font-family="Liberation Sans, Arial, Helvetica, sans-serif" font-size="12.8" fill="#262626"><text x="67.65" y="306.9" text-anchor="middle">0</text><text x="38.5" y="269.45" text-anchor="end">0</text><text x="112.5" y="306.9" text-anchor="middle">0.2</text><text x="38.5" y="224.6" text-anchor="end">0.2</text><text x="157.35" y="306.9" text-anchor="middle">0.4</text><text x="38.5" y="179.75" text-anchor="end">0.4</text><text x="202.2" y="306.9" text-anchor="middle">0.6</text><text x="38.5" y="134.9" text-anchor="end">0.6</text><text x="247.05" y="306.9" text-anchor="middle">0.8</text><text x="38.5" y="90.05" text-anchor="end">0.8</text><text x="291.9" y="306.9" text-anchor="middle" clip-path="url(#c42x)">1</text><text x="39.2" y="45.2" text-anchor="end" clip-path="url(#c42y)">1</text></g>
<text x="137.05" y="10.8" font-size="14.1" font-family="Liberation Serif, Times New Roman, serif" fill="#1a1a1a" stroke="#1a1a1a" stroke-width="0.05" textLength="50.8" lengthAdjust="spacingAndGlyphs">Training</text>
<text x="192.52" y="10.8" font-size="14.1" font-family="Liberation Serif, Times New Roman, serif" fill="#1a1a1a" stroke="#1a1a1a" stroke-width="0.05" textLength="26.74" lengthAdjust="spacingAndGlyphs">data</text>
<text x="158.14" y="322.4" font-size="14.6" font-family="Liberation Serif, Times New Roman, serif" fill="#1a1a1a" stroke="#1a1a1a" stroke-width="0.05" textLength="39.12" lengthAdjust="spacingAndGlyphs">Target</text>
<text x="-250.5" y="0" font-size="14.6" font-family="Liberation Serif, Times New Roman, serif" fill="#1a1a1a" stroke="#1a1a1a" stroke-width="0.05" textLength="48.46" lengthAdjust="spacingAndGlyphs" transform="translate(13.45 0) rotate(-90)">Output</text>
<text x="-196.28" y="0" font-size="14.6" font-family="Liberation Serif, Times New Roman, serif" fill="#1a1a1a" stroke="#1a1a1a" stroke-width="0.05" textLength="9.63" lengthAdjust="spacingAndGlyphs" transform="translate(13.45 0) rotate(-90)">=</text>
<text x="-181.41" y="0" font-size="14.6" font-family="Liberation Serif, Times New Roman, serif" fill="#1a1a1a" stroke="#1a1a1a" stroke-width="0.05" textLength="30.96" lengthAdjust="spacingAndGlyphs" transform="translate(13.45 0) rotate(-90)">0.97*</text>
<text x="-149.27" y="0" font-size="14.6" font-family="Liberation Serif, Times New Roman, serif" fill="#1a1a1a" stroke="#1a1a1a" stroke-width="0.05" textLength="41.83" lengthAdjust="spacingAndGlyphs" transform="translate(13.45 0) rotate(-90)">Target</text>
<text x="-105.69" y="0" font-size="14.6" font-family="Liberation Serif, Times New Roman, serif" fill="#1a1a1a" stroke="#1a1a1a" stroke-width="0.05" textLength="13.98" lengthAdjust="spacingAndGlyphs" transform="translate(13.45 0) rotate(-90)">+</text>
<text x="-88.61" y="0" font-size="14.6" font-family="Liberation Serif, Times New Roman, serif" fill="#1a1a1a" stroke="#1a1a1a" stroke-width="0.05" textLength="31.04" lengthAdjust="spacingAndGlyphs" transform="translate(13.45 0) rotate(-90)">0.021</text>
<rect x="49.3" y="25.3" width="84.8" height="43.5" fill="#fff" stroke="#a8a8a8" stroke-width="1"/>
<circle cx="63.1" cy="32.9" r="2.35" fill="none" stroke="#9c6446" stroke-width="0.85"/>
<line x1="51.2" y1="47.1" x2="75" y2="47.1" stroke="#1414d4" stroke-width="2"/>
<line x1="51.2" y1="60.9" x2="75" y2="60.9" stroke="#8a8a8a" stroke-width="0.9" stroke-dasharray="1 1.3"/>
<g>
<text x="77.16" y="35.9" font-size="12" font-family="Liberation Serif, Times New Roman, serif" fill="#1c1c1c" stroke="#1c1c1c" stroke-width="0.36" textLength="7.9" lengthAdjust="spacingAndGlyphs">R</text>
<text x="84.98" y="35.9" font-size="12" font-family="Liberation Serif, Times New Roman, serif" fill="#1c1c1c" stroke="#1c1c1c" stroke-width="0.36" textLength="8.69" lengthAdjust="spacingAndGlyphs">=</text>
<text x="93.55" y="35.9" font-size="12" font-family="Liberation Serif, Times New Roman, serif" fill="#1c1c1c" stroke="#1c1c1c" stroke-width="0.36" textLength="37.39" lengthAdjust="spacingAndGlyphs">0.98725</text>
<text x="77.16" y="49.9" font-size="12" font-family="Liberation Serif, Times New Roman, serif" fill="#1c1c1c" stroke="#1c1c1c" stroke-width="0.36" textLength="13.62" lengthAdjust="spacingAndGlyphs">Fit</text>
<text x="77.28" y="63.6" font-size="12" font-family="Liberation Serif, Times New Roman, serif" fill="#1c1c1c" stroke="#1c1c1c" stroke-width="0.36" textLength="8.69" lengthAdjust="spacingAndGlyphs">Y</text>
<text x="89.2" y="63.6" font-size="12" font-family="Liberation Serif, Times New Roman, serif" fill="#1c1c1c" stroke="#1c1c1c" stroke-width="0.36" textLength="8.46" lengthAdjust="spacingAndGlyphs">=</text>
<text x="101.56" y="63.6" font-size="12" font-family="Liberation Serif, Times New Roman, serif" fill="#1c1c1c" stroke="#1c1c1c" stroke-width="0.36" textLength="8.49" lengthAdjust="spacingAndGlyphs">T</text>
</g>
<line x1="399.48" y1="289.87" x2="670.83" y2="18.52" stroke="#6e6e6e" stroke-width="1" stroke-dasharray="1 2.3"/>
<line x1="399.48" y1="284.4" x2="670.83" y2="21.2" stroke="#1414d4" stroke-width="2"/>
<rect x="399.5" y="18.5" width="271.1" height="271.25" fill="none" stroke="#8c8c8c" stroke-width="1.1"/>
<path d="M424.6 289.75v-3M424.6 18.5v3M399.5 264.75h3M670.6 264.75h-3M469.45 289.75v-3M469.45 18.5v3M399.5 219.9h3M670.6 219.9h-3M514.3 289.75v-3M514.3 18.5v3M399.5 175.05h3M670.6 175.05h-3M559.15 289.75v-3M559.15 18.5v3M399.5 130.2h3M670.6 130.2h-3M604 289.75v-3M604 18.5v3M399.5 85.35h3M670.6 85.35h-3M648.85 289.75v-3M648.85 18.5v3M399.5 40.5h3M670.6 40.5h-3" stroke="#555" stroke-width="1" fill="none"/>
<g fill="none" stroke="#a83a08" stroke-width="1.0"><circle cx="424.6" cy="220.6" r="2.1"/><circle cx="424.6" cy="223.2" r="2.1"/><circle cx="424.6" cy="225.8" r="2.1"/><circle cx="424.6" cy="227.5" r="2.1"/><circle cx="424.6" cy="228.1" r="2.1"/><circle cx="424.6" cy="228.7" r="2.1"/><circle cx="424.6" cy="229.3" r="2.1"/><circle cx="424.6" cy="229.9" r="2.1"/><circle cx="424.6" cy="230.5" r="2.1"/><circle cx="424.6" cy="231.1" r="2.1"/><circle cx="424.6" cy="231.7" r="2.1"/><circle cx="424.6" cy="232.3" r="2.1"/><circle cx="424.6" cy="232.9" r="2.1"/><circle cx="424.6" cy="233.5" r="2.1"/><circle cx="424.6" cy="234.1" r="2.1"/><circle cx="424.6" cy="234.7" r="2.1"/><circle cx="424.6" cy="235.3" r="2.1"/><circle cx="424.6" cy="235.9" r="2.1"/><circle cx="424.6" cy="236.5" r="2.1"/><circle cx="424.6" cy="237.1" r="2.1"/><circle cx="424.6" cy="237.7" r="2.1"/><circle cx="424.6" cy="238.3" r="2.1"/><circle cx="424.6" cy="238.9" r="2.1"/><circle cx="424.6" cy="239.5" r="2.1"/><circle cx="424.6" cy="240.1" r="2.1"/><circle cx="424.6" cy="240.7" r="2.1"/><circle cx="424.6" cy="241.3" r="2.1"/><circle cx="424.6" cy="241.9" r="2.1"/><circle cx="424.6" cy="242.5" r="2.1"/><circle cx="424.6" cy="243.1" r="2.1"/><circle cx="424.6" cy="243.7" r="2.1"/><circle cx="424.6" cy="244.3" r="2.1"/><circle cx="424.6" cy="244.9" r="2.1"/><circle cx="424.6" cy="245.5" r="2.1"/><circle cx="424.6" cy="246.1" r="2.1"/><circle cx="424.6" cy="246.7" r="2.1"/><circle cx="424.6" cy="247.3" r="2.1"/><circle cx="424.6" cy="247.9" r="2.1"/><circle cx="424.6" cy="248.5" r="2.1"/><circle cx="424.6" cy="249.1" r="2.1"/><circle cx="424.6" cy="249.7" r="2.1"/><circle cx="424.6" cy="252" r="2.1"/><circle cx="424.6" cy="254" r="2.1"/><circle cx="424.6" cy="256.5" r="2.1"/><circle cx="424.6" cy="258.6" r="2.1"/><circle cx="424.6" cy="261.6" r="2.1"/><circle cx="503.45" cy="170.6" r="2.1"/><circle cx="503.55" cy="173" r="2.1"/><circle cx="504.13" cy="174.99" r="2.1"/><circle cx="504.29" cy="175.25" r="2.1"/><circle cx="504.08" cy="175.58" r="2.1"/><circle cx="504.09" cy="175.43" r="2.1"/><circle cx="503.47" cy="176.2" r="2.1"/><circle cx="504.12" cy="176.15" r="2.1"/><circle cx="503.61" cy="176.48" r="2.1"/><circle cx="504.08" cy="176.52" r="2.1"/><circle cx="503.4" cy="176.95" r="2.1"/><circle cx="503.64" cy="176.86" r="2.1"/><circle cx="503.82" cy="177.6" r="2.1"/><circle cx="504.31" cy="177.59" r="2.1"/><circle cx="504.27" cy="178.05" r="2.1"/><circle cx="504.13" cy="178.06" r="2.1"/><circle cx="503.74" cy="178.29" r="2.1"/><circle cx="504.06" cy="178.28" r="2.1"/><circle cx="504.31" cy="179.08" r="2.1"/><circle cx="504.01" cy="179.15" r="2.1"/><circle cx="504.21" cy="179.75" r="2.1"/><circle cx="503.41" cy="180.06" r="2.1"/><circle cx="504.04" cy="180.18" r="2.1"/><circle cx="503.8" cy="180.25" r="2.1"/><circle cx="504.28" cy="180.56" r="2.1"/><circle cx="504.08" cy="181.18" r="2.1"/><circle cx="504.57" cy="181.48" r="2.1"/><circle cx="504.46" cy="181.45" r="2.1"/><circle cx="503.86" cy="181.93" r="2.1"/><circle cx="504.63" cy="181.95" r="2.1"/><circle cx="504.33" cy="182.3" r="2.1"/><circle cx="503.87" cy="182.45" r="2.1"/><circle cx="504.26" cy="182.96" r="2.1"/><circle cx="504.51" cy="182.92" r="2.1"/><circle cx="503.79" cy="183.52" r="2.1"/><circle cx="503.83" cy="183.26" r="2.1"/><circle cx="504.74" cy="183.9" r="2.1"/><circle cx="504.2" cy="184.01" r="2.1"/><circle cx="504.31" cy="184.28" r="2.1"/><circle cx="504.06" cy="184.39" r="2.1"/><circle cx="504.68" cy="185.1" r="2.1"/><circle cx="504.43" cy="185.18" r="2.1"/><circle cx="503.67" cy="185.32" r="2.1"/><circle cx="504.67" cy="185.67" r="2.1"/><circle cx="504.73" cy="185.83" r="2.1"/><circle cx="504.42" cy="186.06" r="2.1"/><circle cx="503.77" cy="186.73" r="2.1"/><circle cx="504.35" cy="186.38" r="2.1"/><circle cx="504.16" cy="186.78" r="2.1"/><circle cx="504.6" cy="186.88" r="2.1"/><circle cx="504.03" cy="187.55" r="2.1"/><circle cx="504.06" cy="187.58" r="2.1"/><circle cx="505" cy="187.75" r="2.1"/><circle cx="505.05" cy="187.88" r="2.1"/><circle cx="504.89" cy="187.79" r="2.1"/><circle cx="503.66" cy="188.3" r="2.1"/><circle cx="505.12" cy="188.31" r="2.1"/><circle cx="504.43" cy="188.75" r="2.1"/><circle cx="504.88" cy="188.78" r="2.1"/><circle cx="504.95" cy="189.5" r="2.1"/><circle cx="504.3" cy="189.26" r="2.1"/><circle cx="503.57" cy="190.01" r="2.1"/><circle cx="505.17" cy="190.09" r="2.1"/><circle cx="504.78" cy="190.6" r="2.1"/><circle cx="504.05" cy="190.64" r="2.1"/><circle cx="504.51" cy="190.46" r="2.1"/><circle cx="503.9" cy="190.89" r="2.1"/><circle cx="505.09" cy="190.92" r="2.1"/><circle cx="504.04" cy="191.35" r="2.1"/><circle cx="503.31" cy="191.73" r="2.1"/><circle cx="505.26" cy="192.04" r="2.1"/><circle cx="503.37" cy="191.83" r="2.1"/><circle cx="504.48" cy="192.56" r="2.1"/><circle cx="505.21" cy="192.4" r="2.1"/><circle cx="503.67" cy="192.36" r="2.1"/><circle cx="503.18" cy="193" r="2.1"/><circle cx="504.03" cy="192.93" r="2.1"/><circle cx="505.19" cy="192.91" r="2.1"/><circle cx="504.25" cy="193.3" r="2.1"/><circle cx="503.12" cy="193.55" r="2.1"/><circle cx="503.1" cy="194.1" r="2.1"/><circle cx="503.52" cy="194.09" r="2.1"/><circle cx="504.65" cy="194.37" r="2.1"/><circle cx="503.29" cy="194.73" r="2.1"/><circle cx="505.1" cy="194.71" r="2.1"/><circle cx="502.98" cy="194.93" r="2.1"/><circle cx="505.08" cy="194.78" r="2.1"/><circle cx="503.58" cy="194.77" r="2.1"/><circle cx="503.68" cy="195.29" r="2.1"/><circle cx="503.69" cy="195.35" r="2.1"/><circle cx="503.88" cy="195.56" r="2.1"/><circle cx="502.98" cy="196.02" r="2.1"/><circle cx="502.87" cy="195.97" r="2.1"/><circle cx="504.81" cy="195.88" r="2.1"/><circle cx="503.31" cy="196.45" r="2.1"/><circle cx="504.75" cy="196.25" r="2.1"/><circle cx="504.12" cy="196.52" r="2.1"/><circle cx="505.16" cy="197.1" r="2.1"/><circle cx="503.2" cy="196.85" r="2.1"/><circle cx="503.9" cy="196.89" r="2.1"/><circle cx="502.79" cy="197.6" r="2.1"/><circle cx="503.67" cy="197.27" r="2.1"/><circle cx="502.87" cy="197.72" r="2.1"/><circle cx="504.85" cy="197.94" r="2.1"/><circle cx="505.13" cy="197.84" r="2.1"/><circle cx="504.44" cy="198.22" r="2.1"/><circle cx="502.46" cy="198.31" r="2.1"/><circle cx="502.67" cy="198.65" r="2.1"/><circle cx="504.06" cy="198.49" r="2.1"/><circle cx="504.09" cy="198.82" r="2.1"/><circle cx="502.75" cy="199.05" r="2.1"/><circle cx="504.09" cy="199.15" r="2.1"/><circle cx="502.71" cy="199.4" r="2.1"/><circle cx="502.73" cy="199.5" r="2.1"/><circle cx="502.42" cy="199.68" r="2.1"/><circle cx="504.4" cy="199.99" r="2.1"/><circle cx="504.67" cy="200.17" r="2.1"/><circle cx="504.46" cy="200.15" r="2.1"/><circle cx="503.32" cy="200.28" r="2.1"/><circle cx="504.26" cy="200.49" r="2.1"/><circle cx="504.76" cy="200.39" r="2.1"/><circle cx="504.43" cy="201.23" r="2.1"/><circle cx="504.22" cy="201.19" r="2.1"/><circle cx="504.54" cy="200.89" r="2.1"/><circle cx="503.12" cy="201.59" r="2.1"/><circle cx="504.5" cy="201.5" r="2.1"/><circle cx="503.94" cy="201.78" r="2.1"/><circle cx="503.81" cy="201.79" r="2.1"/><circle cx="560.3" cy="128.12" r="2.1"/><circle cx="560.19" cy="128.47" r="2.1"/><circle cx="560.3" cy="129.03" r="2.1"/><circle cx="560.19" cy="128.82" r="2.1"/><circle cx="560.09" cy="129.31" r="2.1"/><circle cx="560.21" cy="129.82" r="2.1"/><circle cx="560.33" cy="130.05" r="2.1"/><circle cx="560.25" cy="130.33" r="2.1"/><circle cx="560.34" cy="131.04" r="2.1"/><circle cx="560.29" cy="131.27" r="2.1"/><circle cx="560.24" cy="132.17" r="2.1"/><circle cx="560.39" cy="132.05" r="2.1"/><circle cx="560.13" cy="132.53" r="2.1"/><circle cx="560.4" cy="132.85" r="2.1"/><circle cx="560.13" cy="133.26" r="2.1"/><circle cx="560.4" cy="133.83" r="2.1"/><circle cx="560.32" cy="134.37" r="2.1"/><circle cx="560.33" cy="134.71" r="2.1"/><circle cx="560.23" cy="135.05" r="2.1"/><circle cx="560.38" cy="135.38" r="2.1"/><circle cx="560.36" cy="136.2" r="2.1"/><circle cx="560.47" cy="136.54" r="2.1"/><circle cx="560.36" cy="136.91" r="2.1"/><circle cx="560.15" cy="136.77" r="2.1"/><circle cx="560.19" cy="137.3" r="2.1"/><circle cx="560.14" cy="138.13" r="2.1"/><circle cx="560.24" cy="138.72" r="2.1"/><circle cx="560.46" cy="138.67" r="2.1"/><circle cx="560.35" cy="139.22" r="2.1"/><circle cx="560.55" cy="139.41" r="2.1"/><circle cx="560.36" cy="139.53" r="2.1"/><circle cx="560.83" cy="140.18" r="2.1"/><circle cx="560.94" cy="139.86" r="2.1"/><circle cx="560.58" cy="140.47" r="2.1"/><circle cx="561.42" cy="140.52" r="2.1"/><circle cx="560.84" cy="140.55" r="2.1"/><circle cx="561.37" cy="141.03" r="2.1"/><circle cx="561.09" cy="140.87" r="2.1"/><circle cx="560.16" cy="140.97" r="2.1"/><circle cx="562.31" cy="141.4" r="2.1"/><circle cx="561.34" cy="141.51" r="2.1"/><circle cx="561.03" cy="141.34" r="2.1"/><circle cx="560.04" cy="141.86" r="2.1"/><circle cx="560.56" cy="141.85" r="2.1"/><circle cx="560.33" cy="141.79" r="2.1"/><circle cx="560.24" cy="142.57" r="2.1"/><circle cx="561.43" cy="142.56" r="2.1"/><circle cx="561.1" cy="142.56" r="2.1"/><circle cx="561.05" cy="143.09" r="2.1"/><circle cx="560.34" cy="143.12" r="2.1"/><circle cx="561.39" cy="143.24" r="2.1"/><circle cx="561.29" cy="143.63" r="2.1"/><circle cx="560.53" cy="143.44" r="2.1"/><circle cx="560.95" cy="143.62" r="2.1"/><circle cx="560.2" cy="144.23" r="2.1"/><circle cx="562.61" cy="144" r="2.1"/><circle cx="562.65" cy="144.06" r="2.1"/><circle cx="559.86" cy="144.26" r="2.1"/><circle cx="561.43" cy="144.61" r="2.1"/><circle cx="561.51" cy="144.64" r="2.1"/><circle cx="560.95" cy="144.62" r="2.1"/><circle cx="561.58" cy="145.02" r="2.1"/><circle cx="561.68" cy="145.03" r="2.1"/><circle cx="559.84" cy="145.09" r="2.1"/><circle cx="560.91" cy="145.73" r="2.1"/><circle cx="561.08" cy="145.33" r="2.1"/><circle cx="561.18" cy="145.43" r="2.1"/><circle cx="562.36" cy="145.84" r="2.1"/><circle cx="561.8" cy="145.84" r="2.1"/><circle cx="561.19" cy="146.25" r="2.1"/><circle cx="559.84" cy="146.18" r="2.1"/><circle cx="562.62" cy="146.7" r="2.1"/><circle cx="560.97" cy="146.57" r="2.1"/><circle cx="561" cy="146.33" r="2.1"/><circle cx="560.68" cy="146.47" r="2.1"/><circle cx="559.93" cy="147.02" r="2.1"/><circle cx="561.03" cy="147.03" r="2.1"/><circle cx="562.02" cy="147.05" r="2.1"/><circle cx="562.5" cy="147.55" r="2.1"/><circle cx="560.41" cy="147.52" r="2.1"/><circle cx="562.24" cy="147.27" r="2.1"/><circle cx="561.57" cy="147.49" r="2.1"/><circle cx="560.08" cy="147.87" r="2.1"/><circle cx="560.92" cy="147.96" r="2.1"/><circle cx="561.41" cy="147.89" r="2.1"/><circle cx="561.47" cy="147.99" r="2.1"/><circle cx="562.01" cy="148.37" r="2.1"/><circle cx="562.53" cy="148.52" r="2.1"/><circle cx="560.6" cy="148.38" r="2.1"/><circle cx="560.9" cy="149.09" r="2.1"/><circle cx="560.37" cy="149.18" r="2.1"/><circle cx="560.39" cy="149.19" r="2.1"/><circle cx="560.79" cy="149.54" r="2.1"/><circle cx="561.15" cy="149.52" r="2.1"/><circle cx="561.26" cy="149.72" r="2.1"/><circle cx="559.89" cy="150.24" r="2.1"/><circle cx="559.67" cy="149.78" r="2.1"/><circle cx="562.01" cy="149.89" r="2.1"/><circle cx="560.14" cy="150.5" r="2.1"/><circle cx="562.06" cy="150.26" r="2.1"/><circle cx="560.11" cy="150.26" r="2.1"/><circle cx="559.78" cy="150.41" r="2.1"/><circle cx="562.4" cy="151.07" r="2.1"/><circle cx="562.08" cy="151.05" r="2.1"/><circle cx="562.24" cy="151.09" r="2.1"/><circle cx="560.7" cy="151.49" r="2.1"/><circle cx="559.95" cy="151.71" r="2.1"/><circle cx="561.01" cy="151.35" r="2.1"/><circle cx="561.9" cy="151.89" r="2.1"/><circle cx="561.3" cy="151.8" r="2.1"/><circle cx="560.33" cy="151.84" r="2.1"/><circle cx="561.52" cy="152.36" r="2.1"/><circle cx="561.53" cy="152.54" r="2.1"/><circle cx="561.69" cy="152.75" r="2.1"/><circle cx="562.27" cy="152.98" r="2.1"/><circle cx="561.01" cy="152.84" r="2.1"/><circle cx="559.92" cy="153.07" r="2.1"/><circle cx="559.81" cy="153.29" r="2.1"/><circle cx="561.06" cy="153.35" r="2.1"/><circle cx="560.37" cy="153.63" r="2.1"/><circle cx="560.1" cy="154.09" r="2.1"/><circle cx="562.09" cy="154.06" r="2.1"/><circle cx="560.8" cy="154.02" r="2.1"/><circle cx="561.65" cy="154.64" r="2.1"/><circle cx="560.33" cy="154.64" r="2.1"/><circle cx="560.01" cy="154.31" r="2.1"/><circle cx="560.19" cy="155.03" r="2.1"/><circle cx="560.4" cy="155.22" r="2.1"/><circle cx="560.72" cy="155.16" r="2.1"/><circle cx="560.74" cy="155.63" r="2.1"/><circle cx="560.82" cy="155.45" r="2.1"/><circle cx="561.1" cy="156.21" r="2.1"/><circle cx="561.16" cy="155.91" r="2.1"/><circle cx="560.85" cy="155.93" r="2.1"/><circle cx="561.25" cy="156.25" r="2.1"/><circle cx="560.75" cy="156.51" r="2.1"/><circle cx="561.12" cy="156.88" r="2.1"/><circle cx="560.61" cy="156.87" r="2.1"/><circle cx="560.91" cy="156.97" r="2.1"/><circle cx="560.63" cy="157.64" r="2.1"/><circle cx="560.81" cy="157.3" r="2.1"/><circle cx="560.42" cy="157.9" r="2.1"/><circle cx="561.25" cy="157.99" r="2.1"/><circle cx="589.6" cy="94.8" r="2.1"/><circle cx="589.5" cy="99" r="2.1"/><circle cx="589.51" cy="101.06" r="2.1"/><circle cx="589.47" cy="100.86" r="2.1"/><circle cx="589.36" cy="101.7" r="2.1"/><circle cx="590.3" cy="101.43" r="2.1"/><circle cx="590.06" cy="102.08" r="2.1"/><circle cx="589.37" cy="102.13" r="2.1"/><circle cx="589.55" cy="102.64" r="2.1"/><circle cx="590.08" cy="102.37" r="2.1"/><circle cx="590.1" cy="103.05" r="2.1"/><circle cx="589.83" cy="102.84" r="2.1"/><circle cx="589.49" cy="103.51" r="2.1"/><circle cx="589.93" cy="103.48" r="2.1"/><circle cx="589.93" cy="104.07" r="2.1"/><circle cx="589.76" cy="104.17" r="2.1"/><circle cx="590.36" cy="104.74" r="2.1"/><circle cx="590.3" cy="104.64" r="2.1"/><circle cx="589.99" cy="104.87" r="2.1"/><circle cx="589.4" cy="105.08" r="2.1"/><circle cx="590.11" cy="105.52" r="2.1"/><circle cx="590.1" cy="105.46" r="2.1"/><circle cx="589.69" cy="106.1" r="2.1"/><circle cx="590.55" cy="105.91" r="2.1"/><circle cx="589.93" cy="106.46" r="2.1"/><circle cx="590.22" cy="106.63" r="2.1"/><circle cx="590.55" cy="107.11" r="2.1"/><circle cx="590.81" cy="106.97" r="2.1"/><circle cx="590.33" cy="107.41" r="2.1"/><circle cx="590.64" cy="107.46" r="2.1"/><circle cx="590.14" cy="107.93" r="2.1"/><circle cx="589.22" cy="107.89" r="2.1"/><circle cx="590.98" cy="108.32" r="2.1"/><circle cx="590.89" cy="108.74" r="2.1"/><circle cx="590.67" cy="108.39" r="2.1"/><circle cx="590.9" cy="108.78" r="2.1"/><circle cx="589.68" cy="109.22" r="2.1"/><circle cx="590.46" cy="109.16" r="2.1"/><circle cx="589.38" cy="109.5" r="2.1"/><circle cx="589.19" cy="109.44" r="2.1"/><circle cx="590.86" cy="109.89" r="2.1"/><circle cx="590.5" cy="109.82" r="2.1"/><circle cx="589.52" cy="109.78" r="2.1"/><circle cx="590.3" cy="110.61" r="2.1"/><circle cx="589.91" cy="110.72" r="2.1"/><circle cx="590.62" cy="110.53" r="2.1"/><circle cx="589.35" cy="110.9" r="2.1"/><circle cx="590.21" cy="111.05" r="2.1"/><circle cx="590.5" cy="111.27" r="2.1"/><circle cx="591.12" cy="111.48" r="2.1"/><circle cx="590.68" cy="112.06" r="2.1"/><circle cx="590.89" cy="112.03" r="2.1"/><circle cx="589.53" cy="111.99" r="2.1"/><circle cx="589.75" cy="112.54" r="2.1"/><circle cx="589.3" cy="112.38" r="2.1"/><circle cx="589.23" cy="112.26" r="2.1"/><circle cx="590.61" cy="112.95" r="2.1"/><circle cx="590.97" cy="113.05" r="2.1"/><circle cx="590.43" cy="112.89" r="2.1"/><circle cx="589.75" cy="113.67" r="2.1"/><circle cx="589.52" cy="113.73" r="2.1"/><circle cx="589.38" cy="114.12" r="2.1"/><circle cx="589.33" cy="113.94" r="2.1"/><circle cx="589.72" cy="114.43" r="2.1"/><circle cx="589.35" cy="114.45" r="2.1"/><circle cx="589.21" cy="114.65" r="2.1"/><circle cx="590.51" cy="114.96" r="2.1"/><circle cx="591.06" cy="115.19" r="2.1"/><circle cx="590.5" cy="115.17" r="2.1"/><circle cx="590.95" cy="115.46" r="2.1"/><circle cx="590.26" cy="115.28" r="2.1"/><circle cx="589.71" cy="116.06" r="2.1"/><circle cx="589.07" cy="116.13" r="2.1"/><circle cx="589.2" cy="115.96" r="2.1"/><circle cx="590.74" cy="116.57" r="2.1"/><circle cx="589.36" cy="116.58" r="2.1"/><circle cx="589.53" cy="116.56" r="2.1"/><circle cx="590.95" cy="116.97" r="2.1"/><circle cx="589.61" cy="116.91" r="2.1"/><circle cx="590.95" cy="116.92" r="2.1"/><circle cx="590.12" cy="117.59" r="2.1"/><circle cx="590.9" cy="117.29" r="2.1"/><circle cx="589.72" cy="117.61" r="2.1"/><circle cx="590.41" cy="118.09" r="2.1"/><circle cx="589.28" cy="117.78" r="2.1"/><circle cx="589.67" cy="118.34" r="2.1"/><circle cx="589.64" cy="118.31" r="2.1"/><circle cx="589.19" cy="118.51" r="2.1"/><circle cx="589.44" cy="118.8" r="2.1"/><circle cx="590.34" cy="118.79" r="2.1"/><circle cx="589.93" cy="119.4" r="2.1"/><circle cx="590.35" cy="119.5" r="2.1"/><circle cx="589.75" cy="119.76" r="2.1"/><circle cx="590.31" cy="119.94" r="2.1"/><circle cx="589.44" cy="120.47" r="2.1"/><circle cx="589.91" cy="120.33" r="2.1"/><circle cx="607.6" cy="71.2" r="2.1"/><circle cx="608.29" cy="74.02" r="2.1"/><circle cx="608.35" cy="73.82" r="2.1"/><circle cx="607.96" cy="74.29" r="2.1"/><circle cx="607.53" cy="74.37" r="2.1"/><circle cx="608.05" cy="74.57" r="2.1"/><circle cx="607.67" cy="74.61" r="2.1"/><circle cx="607.86" cy="75.19" r="2.1"/><circle cx="607.92" cy="75.7" r="2.1"/><circle cx="607.37" cy="76.08" r="2.1"/><circle cx="607.41" cy="76.53" r="2.1"/><circle cx="607.94" cy="77.02" r="2.1"/><circle cx="608.11" cy="77.1" r="2.1"/><circle cx="607.81" cy="77.36" r="2.1"/><circle cx="608.08" cy="77.72" r="2.1"/><circle cx="608.08" cy="77.65" r="2.1"/><circle cx="607.77" cy="78.31" r="2.1"/><circle cx="607.25" cy="78.17" r="2.1"/><circle cx="607.37" cy="78.79" r="2.1"/><circle cx="608.6" cy="78.85" r="2.1"/><circle cx="608.29" cy="79.53" r="2.1"/><circle cx="607.68" cy="79.25" r="2.1"/><circle cx="607.06" cy="79.78" r="2.1"/><circle cx="607.47" cy="79.83" r="2.1"/><circle cx="608.5" cy="80.3" r="2.1"/><circle cx="608.2" cy="80.09" r="2.1"/><circle cx="608.69" cy="80.86" r="2.1"/><circle cx="607.88" cy="80.81" r="2.1"/><circle cx="607.31" cy="81.15" r="2.1"/><circle cx="608.5" cy="81.31" r="2.1"/><circle cx="607.04" cy="81.36" r="2.1"/><circle cx="608.27" cy="81.64" r="2.1"/><circle cx="608.87" cy="81.64" r="2.1"/><circle cx="607.91" cy="82.13" r="2.1"/><circle cx="607.5" cy="82.14" r="2.1"/><circle cx="607.29" cy="82.07" r="2.1"/><circle cx="608.39" cy="82.68" r="2.1"/><circle cx="609.01" cy="82.76" r="2.1"/><circle cx="607.93" cy="83.01" r="2.1"/><circle cx="607.98" cy="83.42" r="2.1"/><circle cx="608.6" cy="83.2" r="2.1"/><circle cx="607.08" cy="83.42" r="2.1"/><circle cx="608.32" cy="83.61" r="2.1"/><circle cx="608.67" cy="83.64" r="2.1"/><circle cx="608.79" cy="83.86" r="2.1"/><circle cx="607.08" cy="84.23" r="2.1"/><circle cx="608.65" cy="84.11" r="2.1"/><circle cx="606.99" cy="84.26" r="2.1"/><circle cx="608.39" cy="84.66" r="2.1"/><circle cx="607.09" cy="84.97" r="2.1"/><circle cx="608.54" cy="85.15" r="2.1"/><circle cx="608.65" cy="85.05" r="2.1"/><circle cx="607.64" cy="86.03" r="2.1"/><circle cx="606.98" cy="85.63" r="2.1"/><circle cx="608.6" cy="85.93" r="2.1"/><circle cx="607.07" cy="86.48" r="2.1"/><circle cx="609.12" cy="86.5" r="2.1"/><circle cx="608.19" cy="86.09" r="2.1"/><circle cx="608.37" cy="86.97" r="2.1"/><circle cx="608.62" cy="86.8" r="2.1"/><circle cx="609.11" cy="86.78" r="2.1"/><circle cx="608.32" cy="87.44" r="2.1"/><circle cx="608.21" cy="87.52" r="2.1"/><circle cx="607.51" cy="87.5" r="2.1"/><circle cx="607.67" cy="87.56" r="2.1"/><circle cx="608.23" cy="87.86" r="2.1"/><circle cx="608.12" cy="88.41" r="2.1"/><circle cx="608.56" cy="88.13" r="2.1"/><circle cx="607.85" cy="88.66" r="2.1"/><circle cx="607.49" cy="88.73" r="2.1"/><circle cx="608.49" cy="88.83" r="2.1"/><circle cx="607.02" cy="89.44" r="2.1"/><circle cx="608.51" cy="89.47" r="2.1"/><circle cx="608.58" cy="89.08" r="2.1"/><circle cx="607.88" cy="89.7" r="2.1"/><circle cx="608.64" cy="89.65" r="2.1"/><circle cx="606.93" cy="89.78" r="2.1"/><circle cx="607.02" cy="90.35" r="2.1"/><circle cx="608.13" cy="90.32" r="2.1"/><circle cx="607.1" cy="90.33" r="2.1"/><circle cx="607.57" cy="90.66" r="2.1"/><circle cx="607.32" cy="90.79" r="2.1"/><circle cx="607.97" cy="91.39" r="2.1"/><circle cx="607.54" cy="91.35" r="2.1"/><circle cx="608.09" cy="91.65" r="2.1"/><circle cx="607.92" cy="91.92" r="2.1"/><circle cx="619.9" cy="55.5" r="2.1"/><circle cx="620.23" cy="57.71" r="2.1"/><circle cx="620.57" cy="57.93" r="2.1"/><circle cx="620.44" cy="58.31" r="2.1"/><circle cx="619.88" cy="58.3" r="2.1"/><circle cx="620.16" cy="59.21" r="2.1"/><circle cx="620.74" cy="59.02" r="2.1"/><circle cx="620.09" cy="59.28" r="2.1"/><circle cx="619.78" cy="59.69" r="2.1"/><circle cx="619.6" cy="60.24" r="2.1"/><circle cx="620.2" cy="60.14" r="2.1"/><circle cx="621.25" cy="60.29" r="2.1"/><circle cx="620.39" cy="60.57" r="2.1"/><circle cx="621.25" cy="60.92" r="2.1"/><circle cx="620.8" cy="60.79" r="2.1"/><circle cx="619.69" cy="60.79" r="2.1"/><circle cx="621.39" cy="61.71" r="2.1"/><circle cx="620.57" cy="61.3" r="2.1"/><circle cx="620.56" cy="62.14" r="2.1"/><circle cx="620.83" cy="62.03" r="2.1"/><circle cx="619.8" cy="62.29" r="2.1"/><circle cx="620.39" cy="62.39" r="2.1"/><circle cx="621.47" cy="62.27" r="2.1"/><circle cx="619.74" cy="62.8" r="2.1"/><circle cx="621.38" cy="62.86" r="2.1"/><circle cx="620.67" cy="63.45" r="2.1"/><circle cx="620.2" cy="63.32" r="2.1"/><circle cx="620.23" cy="64.05" r="2.1"/><circle cx="621.11" cy="63.79" r="2.1"/><circle cx="620.18" cy="64.72" r="2.1"/><circle cx="620.7" cy="64.35" r="2.1"/><circle cx="620.39" cy="64.26" r="2.1"/><circle cx="619.63" cy="64.82" r="2.1"/><circle cx="620.47" cy="65.02" r="2.1"/><circle cx="620.59" cy="65.41" r="2.1"/><circle cx="620.81" cy="65.28" r="2.1"/><circle cx="621.07" cy="65.47" r="2.1"/><circle cx="620.03" cy="66.06" r="2.1"/><circle cx="619.67" cy="66.21" r="2.1"/><circle cx="619.91" cy="65.96" r="2.1"/><circle cx="620.32" cy="66.73" r="2.1"/><circle cx="619.84" cy="66.34" r="2.1"/><circle cx="620.48" cy="66.57" r="2.1"/><circle cx="619.89" cy="67.05" r="2.1"/><circle cx="619.92" cy="66.76" r="2.1"/><circle cx="620.73" cy="67.18" r="2.1"/><circle cx="620.98" cy="67.36" r="2.1"/><circle cx="620.04" cy="67.55" r="2.1"/><circle cx="620.56" cy="68.03" r="2.1"/><circle cx="619.9" cy="67.87" r="2.1"/><circle cx="619.69" cy="68.54" r="2.1"/><circle cx="619.73" cy="68.69" r="2.1"/><circle cx="621.06" cy="68.32" r="2.1"/><circle cx="620.54" cy="68.75" r="2.1"/><circle cx="620.22" cy="68.93" r="2.1"/><circle cx="619.88" cy="69.37" r="2.1"/><circle cx="619.82" cy="69.47" r="2.1"/><circle cx="620.13" cy="70.21" r="2.1"/><circle cx="620.79" cy="70" r="2.1"/><circle cx="620.19" cy="70.63" r="2.1"/><circle cx="620.13" cy="71.12" r="2.1"/><circle cx="655.43" cy="37.91" r="2.1"/><circle cx="635.51" cy="40.31" r="2.1"/><circle cx="639.7" cy="37.98" r="2.1"/><circle cx="635.2" cy="50.27" r="2.1"/><circle cx="654.75" cy="29.42" r="2.1"/><circle cx="640.71" cy="36.21" r="2.1"/><circle cx="644.1" cy="50.78" r="2.1"/><circle cx="658.97" cy="34.31" r="2.1"/><circle cx="651.15" cy="45.61" r="2.1"/><circle cx="658.14" cy="26.18" r="2.1"/><circle cx="664.22" cy="33.15" r="2.1"/><circle cx="644.72" cy="33.03" r="2.1"/><circle cx="651.49" cy="48.11" r="2.1"/><circle cx="650.48" cy="36.19" r="2.1"/><circle cx="648.26" cy="33.56" r="2.1"/><circle cx="642.65" cy="39.98" r="2.1"/><circle cx="640.79" cy="44.03" r="2.1"/><circle cx="663.6" cy="23.53" r="2.1"/><circle cx="656.37" cy="40.48" r="2.1"/><circle cx="664.7" cy="26.73" r="2.1"/><circle cx="664.08" cy="28.51" r="2.1"/><circle cx="657.62" cy="26.35" r="2.1"/><circle cx="656.33" cy="38.45" r="2.1"/><circle cx="651.02" cy="31.95" r="2.1"/><circle cx="661.31" cy="35.28" r="2.1"/><circle cx="644.12" cy="47" r="2.1"/><circle cx="659.12" cy="30.7" r="2.1"/><circle cx="653.92" cy="27.66" r="2.1"/><circle cx="638.24" cy="43.9" r="2.1"/><circle cx="660.99" cy="35.65" r="2.1"/><circle cx="647.92" cy="51.94" r="2.1"/><circle cx="652.67" cy="35.8" r="2.1"/><circle cx="660.61" cy="29.74" r="2.1"/><circle cx="654" cy="33.53" r="2.1"/><circle cx="662.31" cy="33.96" r="2.1"/><circle cx="648.82" cy="42.48" r="2.1"/><circle cx="643.35" cy="36.97" r="2.1"/><circle cx="661.85" cy="29.45" r="2.1"/><circle cx="642.76" cy="50.8" r="2.1"/><circle cx="643.47" cy="53.37" r="2.1"/><circle cx="661.44" cy="33.42" r="2.1"/><circle cx="663.81" cy="31.86" r="2.1"/><circle cx="641.75" cy="49.06" r="2.1"/><circle cx="644.16" cy="45.88" r="2.1"/><circle cx="640.15" cy="35.4" r="2.1"/><circle cx="659.86" cy="26.89" r="2.1"/><circle cx="652.76" cy="46.29" r="2.1"/><circle cx="659.18" cy="23.22" r="2.1"/><circle cx="645.47" cy="44.51" r="2.1"/><circle cx="660.1" cy="35.05" r="2.1"/><circle cx="652.4" cy="37.65" r="2.1"/><circle cx="658.6" cy="30.91" r="2.1"/><circle cx="653.22" cy="42.84" r="2.1"/><circle cx="635.83" cy="46.33" r="2.1"/><circle cx="650.33" cy="30.1" r="2.1"/><circle cx="662.57" cy="23.37" r="2.1"/><circle cx="650.69" cy="34.32" r="2.1"/><circle cx="656.06" cy="24.04" r="2.1"/><circle cx="664.87" cy="31.03" r="2.1"/><circle cx="654.57" cy="30.66" r="2.1"/><circle cx="642.31" cy="33.74" r="2.1"/><circle cx="650.9" cy="33.02" r="2.1"/><circle cx="644.17" cy="41.64" r="2.1"/><circle cx="641.49" cy="51.18" r="2.1"/><circle cx="639.92" cy="46.01" r="2.1"/><circle cx="649.89" cy="50.21" r="2.1"/><circle cx="649.7" cy="42.53" r="2.1"/><circle cx="648.95" cy="51.75" r="2.1"/><circle cx="644.8" cy="51.37" r="2.1"/><circle cx="660.49" cy="25.15" r="2.1"/><circle cx="659.54" cy="26.45" r="2.1"/><circle cx="647.91" cy="51.99" r="2.1"/><circle cx="657.22" cy="33.73" r="2.1"/><circle cx="646.96" cy="38.72" r="2.1"/><circle cx="634.35" cy="51.28" r="2.1"/><circle cx="661.59" cy="21.39" r="2.1"/><circle cx="660.25" cy="34.84" r="2.1"/><circle cx="644.53" cy="30.99" r="2.1"/><circle cx="647.03" cy="46.43" r="2.1"/><circle cx="651.39" cy="36.45" r="2.1"/><circle cx="645.43" cy="47.26" r="2.1"/><circle cx="660.77" cy="30.19" r="2.1"/><circle cx="665.33" cy="22.17" r="2.1"/><circle cx="654.74" cy="30.08" r="2.1"/><circle cx="637.88" cy="53.38" r="2.1"/><circle cx="660.54" cy="34.33" r="2.1"/><circle cx="652.37" cy="29.16" r="2.1"/><circle cx="651.56" cy="46.96" r="2.1"/><circle cx="635.22" cy="55.63" r="2.1"/><circle cx="637.84" cy="42.53" r="2.1"/><circle cx="648.92" cy="44.44" r="2.1"/><circle cx="645.16" cy="51.01" r="2.1"/><circle cx="659.68" cy="28.62" r="2.1"/><circle cx="664.91" cy="22.6" r="2.1"/><circle cx="660.04" cy="29.34" r="2.1"/><circle cx="664.64" cy="22.55" r="2.1"/><circle cx="659.58" cy="23.09" r="2.1"/><circle cx="660.4" cy="25.26" r="2.1"/><circle cx="648.8" cy="49.8" r="2.1"/><circle cx="659.8" cy="26.77" r="2.1"/><circle cx="636.92" cy="39.45" r="2.1"/><circle cx="662.68" cy="33.53" r="2.1"/><circle cx="644.62" cy="49.13" r="2.1"/><circle cx="640.83" cy="39.15" r="2.1"/><circle cx="641.51" cy="38.11" r="2.1"/><circle cx="639.96" cy="40.2" r="2.1"/><circle cx="642.32" cy="47.77" r="2.1"/><circle cx="635.25" cy="44.29" r="2.1"/><circle cx="640.72" cy="39.59" r="2.1"/><circle cx="647.42" cy="53.27" r="2.1"/><circle cx="635.55" cy="59.48" r="2.1"/><circle cx="659.27" cy="33.81" r="2.1"/><circle cx="653.59" cy="40.03" r="2.1"/><circle cx="634.54" cy="55.04" r="2.1"/><circle cx="646.41" cy="29.95" r="2.1"/><circle cx="648.12" cy="34.2" r="2.1"/><circle cx="655.93" cy="38.5" r="2.1"/><circle cx="656.36" cy="40.68" r="2.1"/><circle cx="664.65" cy="20.17" r="2.1"/><circle cx="660.83" cy="35.1" r="2.1"/><circle cx="660.89" cy="29.67" r="2.1"/><circle cx="662.66" cy="32.7" r="2.1"/><circle cx="649.72" cy="49.81" r="2.1"/><circle cx="647.69" cy="50.78" r="2.1"/><circle cx="651.29" cy="36.94" r="2.1"/><circle cx="648.9" cy="36.03" r="2.1"/><circle cx="651.81" cy="42.92" r="2.1"/><circle cx="660.66" cy="29.69" r="2.1"/><circle cx="650.12" cy="31.33" r="2.1"/><circle cx="639.91" cy="39.21" r="2.1"/><circle cx="656.79" cy="31.15" r="2.1"/><circle cx="643.2" cy="41.92" r="2.1"/><circle cx="657.79" cy="35.1" r="2.1"/><circle cx="637.83" cy="48.08" r="2.1"/><circle cx="659.8" cy="21.69" r="2.1"/><circle cx="649.04" cy="36.71" r="2.1"/><circle cx="639.78" cy="35.27" r="2.1"/><circle cx="651.04" cy="36.28" r="2.1"/><circle cx="639.53" cy="39.11" r="2.1"/><circle cx="664.37" cy="25.44" r="2.1"/><circle cx="646.27" cy="34.42" r="2.1"/><circle cx="642.35" cy="42.05" r="2.1"/><circle cx="654.7" cy="29.95" r="2.1"/><circle cx="646.44" cy="34.28" r="2.1"/><circle cx="662.68" cy="34.65" r="2.1"/><circle cx="634.48" cy="55.72" r="2.1"/><circle cx="661.36" cy="25.56" r="2.1"/><circle cx="653.68" cy="32" r="2.1"/><circle cx="658.48" cy="24.96" r="2.1"/><circle cx="655.34" cy="33.44" r="2.1"/><circle cx="634.75" cy="44.63" r="2.1"/><circle cx="651.99" cy="25.83" r="2.1"/><circle cx="658.38" cy="35.07" r="2.1"/><circle cx="636.45" cy="55.96" r="2.1"/><circle cx="640.21" cy="39.21" r="2.1"/><circle cx="639.95" cy="47.58" r="2.1"/><circle cx="648.56" cy="45.96" r="2.1"/><circle cx="653.59" cy="28.2" r="2.1"/><circle cx="657.91" cy="35.61" r="2.1"/><circle cx="654.02" cy="24.92" r="2.1"/><circle cx="642.97" cy="32.18" r="2.1"/><circle cx="640.34" cy="35.4" r="2.1"/><circle cx="652.92" cy="45.52" r="2.1"/><circle cx="641.71" cy="54.53" r="2.1"/><circle cx="642.26" cy="42.02" r="2.1"/><circle cx="637.59" cy="47.24" r="2.1"/><circle cx="653.91" cy="31.76" r="2.1"/><circle cx="635.33" cy="43.36" r="2.1"/><circle cx="634.36" cy="49.06" r="2.1"/><circle cx="649.52" cy="29.57" r="2.1"/><circle cx="651.05" cy="34.92" r="2.1"/><circle cx="639.87" cy="43.58" r="2.1"/><circle cx="650.4" cy="42.3" r="2.1"/><circle cx="641.27" cy="47.28" r="2.1"/><circle cx="649.88" cy="44.74" r="2.1"/><circle cx="660.66" cy="23.32" r="2.1"/><circle cx="649.55" cy="38.56" r="2.1"/><circle cx="647.4" cy="47.08" r="2.1"/><circle cx="638.2" cy="36.84" r="2.1"/><circle cx="641.66" cy="34.44" r="2.1"/><circle cx="648.18" cy="28.11" r="2.1"/><circle cx="639.4" cy="37.62" r="2.1"/><circle cx="640.01" cy="53.14" r="2.1"/><circle cx="654.93" cy="40.89" r="2.1"/><circle cx="650.9" cy="40.76" r="2.1"/><circle cx="645.59" cy="47.29" r="2.1"/><circle cx="659.65" cy="26.47" r="2.1"/><circle cx="644.61" cy="36.39" r="2.1"/><circle cx="649.26" cy="35.85" r="2.1"/><circle cx="641.5" cy="44.65" r="2.1"/><circle cx="661.19" cy="29.83" r="2.1"/><circle cx="649.04" cy="37.9" r="2.1"/><circle cx="642.94" cy="48.06" r="2.1"/><circle cx="639.08" cy="40.97" r="2.1"/><circle cx="643" cy="45.94" r="2.1"/><circle cx="652.39" cy="40.48" r="2.1"/><circle cx="645.5" cy="39.5" r="2.1"/><circle cx="663.68" cy="23.65" r="2.1"/><circle cx="652.43" cy="37.84" r="2.1"/><circle cx="650.06" cy="48.27" r="2.1"/><circle cx="657.32" cy="27.75" r="2.1"/><circle cx="662.51" cy="27.53" r="2.1"/><circle cx="643.29" cy="38.8" r="2.1"/><circle cx="650.09" cy="26.98" r="2.1"/><circle cx="641.28" cy="36.6" r="2.1"/><circle cx="664.46" cy="25" r="2.1"/><circle cx="662.53" cy="21.37" r="2.1"/><circle cx="646.22" cy="29.16" r="2.1"/><circle cx="651.19" cy="29.16" r="2.1"/><circle cx="634.55" cy="46.84" r="2.1"/><circle cx="649.76" cy="44.48" r="2.1"/><circle cx="643.1" cy="51.59" r="2.1"/><circle cx="660.88" cy="35.95" r="2.1"/><circle cx="645.47" cy="38.32" r="2.1"/><circle cx="643.69" cy="44.62" r="2.1"/><circle cx="650.22" cy="49.93" r="2.1"/><circle cx="644.24" cy="31.14" r="2.1"/><circle cx="657.82" cy="25.44" r="2.1"/><circle cx="660.05" cy="25.15" r="2.1"/><circle cx="648.8" cy="42.45" r="2.1"/><circle cx="642.53" cy="54.01" r="2.1"/><circle cx="652.15" cy="27.37" r="2.1"/><circle cx="661.91" cy="27.69" r="2.1"/><circle cx="651.91" cy="34.55" r="2.1"/><circle cx="655.69" cy="29.49" r="2.1"/><circle cx="636.12" cy="57.33" r="2.1"/><circle cx="653.75" cy="32.21" r="2.1"/><circle cx="656.36" cy="38.08" r="2.1"/><circle cx="651.32" cy="42.9" r="2.1"/><circle cx="638.35" cy="43.95" r="2.1"/><circle cx="655.15" cy="25.51" r="2.1"/><circle cx="659.08" cy="37.24" r="2.1"/><circle cx="638.37" cy="49.59" r="2.1"/><circle cx="636.63" cy="38.41" r="2.1"/><circle cx="634.94" cy="42.41" r="2.1"/><circle cx="634.7" cy="50.79" r="2.1"/><circle cx="651.76" cy="40.8" r="2.1"/><circle cx="636.91" cy="49.66" r="2.1"/><circle cx="650.11" cy="31.05" r="2.1"/><circle cx="645.59" cy="37.42" r="2.1"/><circle cx="652.38" cy="45.67" r="2.1"/><circle cx="636.01" cy="54.27" r="2.1"/><circle cx="658.31" cy="34.11" r="2.1"/><circle cx="642.74" cy="41.19" r="2.1"/><circle cx="649.01" cy="49.63" r="2.1"/><circle cx="648.87" cy="38.07" r="2.1"/><circle cx="651.12" cy="38.94" r="2.1"/><circle cx="641.38" cy="33.73" r="2.1"/><circle cx="634.54" cy="57.94" r="2.1"/><circle cx="644.07" cy="35.67" r="2.1"/><circle cx="656.5" cy="32.76" r="2.1"/><circle cx="655.21" cy="42.58" r="2.1"/><circle cx="648.06" cy="52.78" r="2.1"/><circle cx="657.8" cy="27.89" r="2.1"/><circle cx="653.87" cy="32.72" r="2.1"/><circle cx="636.85" cy="40.67" r="2.1"/><circle cx="643.41" cy="55.2" r="2.1"/><circle cx="646.22" cy="37.69" r="2.1"/><circle cx="648.08" cy="51.65" r="2.1"/><circle cx="647.26" cy="35.59" r="2.1"/><circle cx="642.89" cy="41.11" r="2.1"/><circle cx="654.38" cy="38.93" r="2.1"/><circle cx="654.63" cy="28.9" r="2.1"/><circle cx="653.87" cy="26" r="2.1"/><circle cx="653.44" cy="43.8" r="2.1"/><circle cx="637.83" cy="50.97" r="2.1"/><circle cx="657.04" cy="37.52" r="2.1"/><circle cx="665.08" cy="28.83" r="2.1"/><circle cx="665.17" cy="26.61" r="2.1"/><circle cx="650.18" cy="30.6" r="2.1"/><circle cx="653.22" cy="31.43" r="2.1"/><circle cx="642.98" cy="45.21" r="2.1"/><circle cx="637.05" cy="40.06" r="2.1"/><circle cx="657.27" cy="33.18" r="2.1"/><circle cx="650.99" cy="40.06" r="2.1"/><circle cx="644.76" cy="36.24" r="2.1"/><circle cx="643.7" cy="39.38" r="2.1"/><circle cx="640.19" cy="52.52" r="2.1"/><circle cx="660.6" cy="35.54" r="2.1"/><circle cx="640.87" cy="34.74" r="2.1"/><circle cx="637.78" cy="48.99" r="2.1"/><circle cx="650.98" cy="39.63" r="2.1"/><circle cx="663.22" cy="18.85" r="2.1"/><circle cx="641.37" cy="47.11" r="2.1"/><circle cx="643.56" cy="50.27" r="2.1"/><circle cx="642.12" cy="48.15" r="2.1"/><circle cx="658.01" cy="23" r="2.1"/><circle cx="650.81" cy="32.01" r="2.1"/><circle cx="663.6" cy="19.33" r="2.1"/><circle cx="654.61" cy="30.88" r="2.1"/><circle cx="657.29" cy="37.24" r="2.1"/><circle cx="665.05" cy="29.08" r="2.1"/><circle cx="639.77" cy="45.71" r="2.1"/><circle cx="644.56" cy="30.63" r="2.1"/><circle cx="648.73" cy="49.03" r="2.1"/><circle cx="651.71" cy="46.08" r="2.1"/><circle cx="640.85" cy="36.82" r="2.1"/><circle cx="659.61" cy="23.76" r="2.1"/><circle cx="640.44" cy="43.69" r="2.1"/><circle cx="649.22" cy="34.55" r="2.1"/><circle cx="645.33" cy="37.93" r="2.1"/><circle cx="644.17" cy="39.82" r="2.1"/><circle cx="652.77" cy="45.74" r="2.1"/><circle cx="662.7" cy="29.01" r="2.1"/><circle cx="650.61" cy="37.53" r="2.1"/><circle cx="642.17" cy="50.17" r="2.1"/><circle cx="658.23" cy="36.89" r="2.1"/><circle cx="638.96" cy="37.01" r="2.1"/><circle cx="653.32" cy="38.95" r="2.1"/><circle cx="645.81" cy="49.37" r="2.1"/><circle cx="645.93" cy="51.12" r="2.1"/><circle cx="647.6" cy="45.35" r="2.1"/><circle cx="644.23" cy="53.61" r="2.1"/><circle cx="665.25" cy="24.39" r="2.1"/><circle cx="636.7" cy="55.19" r="2.1"/><circle cx="649.5" cy="46.72" r="2.1"/><circle cx="637.6" cy="44.06" r="2.1"/><circle cx="651.27" cy="41.01" r="2.1"/><circle cx="650.33" cy="35.47" r="2.1"/><circle cx="652.9" cy="32.48" r="2.1"/><circle cx="655.46" cy="28.31" r="2.1"/><circle cx="646.98" cy="49" r="2.1"/><circle cx="645.33" cy="44.18" r="2.1"/><circle cx="654.75" cy="29.14" r="2.1"/><circle cx="647.81" cy="39.78" r="2.1"/><circle cx="649.27" cy="41.78" r="2.1"/><circle cx="643.51" cy="54.24" r="2.1"/><circle cx="657.27" cy="33.32" r="2.1"/><circle cx="636.33" cy="56.16" r="2.1"/><circle cx="640.46" cy="42.28" r="2.1"/><circle cx="634.41" cy="53.5" r="2.1"/><circle cx="649.77" cy="44.74" r="2.1"/><circle cx="650.65" cy="35.53" r="2.1"/><circle cx="654.03" cy="44.46" r="2.1"/><circle cx="663.64" cy="22.4" r="2.1"/><circle cx="651.64" cy="45.54" r="2.1"/><circle cx="652.76" cy="42.72" r="2.1"/><circle cx="648.12" cy="29.49" r="2.1"/><circle cx="654.14" cy="29.86" r="2.1"/><circle cx="664.67" cy="26.77" r="2.1"/><circle cx="656.64" cy="29.8" r="2.1"/><circle cx="648.8" cy="32.98" r="2.1"/><circle cx="661.93" cy="32.25" r="2.1"/><circle cx="661.52" cy="20.28" r="2.1"/><circle cx="657.5" cy="38.77" r="2.1"/><circle cx="650.02" cy="35.34" r="2.1"/><circle cx="645.41" cy="54.23" r="2.1"/><circle cx="661.05" cy="31.09" r="2.1"/><circle cx="659.13" cy="26.2" r="2.1"/><circle cx="643.26" cy="38.59" r="2.1"/><circle cx="643.24" cy="52.86" r="2.1"/><circle cx="644.33" cy="42.22" r="2.1"/><circle cx="652.28" cy="28.74" r="2.1"/><circle cx="664.3" cy="27.31" r="2.1"/><circle cx="662.5" cy="29.88" r="2.1"/><circle cx="634.72" cy="54.01" r="2.1"/><circle cx="660.18" cy="26.01" r="2.1"/><circle cx="651.39" cy="31.1" r="2.1"/><circle cx="645.47" cy="52.65" r="2.1"/><circle cx="635.67" cy="49.77" r="2.1"/><circle cx="658.52" cy="29" r="2.1"/><circle cx="637.46" cy="47.16" r="2.1"/><circle cx="659.67" cy="32.12" r="2.1"/><circle cx="649.66" cy="36.5" r="2.1"/><circle cx="650.22" cy="45.69" r="2.1"/><circle cx="660.65" cy="22.21" r="2.1"/></g>
<g fill="none" stroke="#946048" stroke-width="1.0"><circle cx="424.6" cy="279.1" r="2.1"/><circle cx="424.6" cy="287" r="2.1"/><circle cx="424.6" cy="289" r="2.1"/></g>
<defs><clipPath id="c399x"><rect x="640.85" y="290" width="16" height="16"/><rect x="648.4" y="305" width="1.6" height="4"/></clipPath><clipPath id="c399y"><rect x="384.2" y="28" width="14" height="16"/><rect x="391.9" y="43" width="1.4" height="4"/></clipPath></defs>
<g font-family="Liberation Sans, Arial, Helvetica, sans-serif" font-size="12.8" fill="#262626"><text x="424.6" y="306.9" text-anchor="middle">0</text><text x="395.5" y="269.45" text-anchor="end">0</text><text x="469.45" y="306.9" text-anchor="middle">0.2</text><text x="395.5" y="224.6" text-anchor="end">0.2</text><text x="514.3" y="306.9" text-anchor="middle">0.4</text><text x="395.5" y="179.75" text-anchor="end">0.4</text><text x="559.15" y="306.9" text-anchor="middle">0.6</text><text x="395.5" y="134.9" text-anchor="end">0.6</text><text x="604" y="306.9" text-anchor="middle">0.8</text><text x="395.5" y="90.05" text-anchor="end">0.8</text><text x="648.85" y="306.9" text-anchor="middle" clip-path="url(#c399x)">1</text><text x="396.2" y="45.2" text-anchor="end" clip-path="url(#c399y)">1</text></g>
<text x="498.45" y="10.8" font-size="14.1" font-family="Liberation Serif, Times New Roman, serif" fill="#1a1a1a" stroke="#1a1a1a" stroke-width="0.05" textLength="43.4" lengthAdjust="spacingAndGlyphs">Testing</text>
<text x="546.52" y="10.8" font-size="14.1" font-family="Liberation Serif, Times New Roman, serif" fill="#1a1a1a" stroke="#1a1a1a" stroke-width="0.05" textLength="26.74" lengthAdjust="spacingAndGlyphs">data</text>
<text x="515.35" y="322.4" font-size="14.6" font-family="Liberation Serif, Times New Roman, serif" fill="#1a1a1a" stroke="#1a1a1a" stroke-width="0.05" textLength="38.32" lengthAdjust="spacingAndGlyphs">Target</text>
<text x="-250.5" y="0" font-size="14.6" font-family="Liberation Serif, Times New Roman, serif" fill="#1a1a1a" stroke="#1a1a1a" stroke-width="0.05" textLength="48.46" lengthAdjust="spacingAndGlyphs" transform="translate(370.45 0) rotate(-90)">Output</text>
<text x="-196.28" y="0" font-size="14.6" font-family="Liberation Serif, Times New Roman, serif" fill="#1a1a1a" stroke="#1a1a1a" stroke-width="0.05" textLength="9.63" lengthAdjust="spacingAndGlyphs" transform="translate(370.45 0) rotate(-90)">=</text>
<text x="-181.41" y="0" font-size="14.6" font-family="Liberation Serif, Times New Roman, serif" fill="#1a1a1a" stroke="#1a1a1a" stroke-width="0.05" textLength="30.96" lengthAdjust="spacingAndGlyphs" transform="translate(370.45 0) rotate(-90)">0.97*</text>
<text x="-149.27" y="0" font-size="14.6" font-family="Liberation Serif, Times New Roman, serif" fill="#1a1a1a" stroke="#1a1a1a" stroke-width="0.05" textLength="41.83" lengthAdjust="spacingAndGlyphs" transform="translate(370.45 0) rotate(-90)">Target</text>
<text x="-105.69" y="0" font-size="14.6" font-family="Liberation Serif, Times New Roman, serif" fill="#1a1a1a" stroke="#1a1a1a" stroke-width="0.05" textLength="13.98" lengthAdjust="spacingAndGlyphs" transform="translate(370.45 0) rotate(-90)">+</text>
<text x="-88.61" y="0" font-size="14.6" font-family="Liberation Serif, Times New Roman, serif" fill="#1a1a1a" stroke="#1a1a1a" stroke-width="0.05" textLength="31.04" lengthAdjust="spacingAndGlyphs" transform="translate(370.45 0) rotate(-90)">0.021</text>
<rect x="405.6" y="25.3" width="84.8" height="43.5" fill="#fff" stroke="#a8a8a8" stroke-width="1"/>
<circle cx="419.4" cy="32.9" r="2.35" fill="none" stroke="#9c6446" stroke-width="0.85"/>
<line x1="407.5" y1="47.1" x2="431.3" y2="47.1" stroke="#1414d4" stroke-width="2"/>
<line x1="407.5" y1="60.9" x2="431.3" y2="60.9" stroke="#8a8a8a" stroke-width="0.9" stroke-dasharray="1 1.3"/>
<g>
<text x="433.46" y="35.9" font-size="12" font-family="Liberation Serif, Times New Roman, serif" fill="#1c1c1c" stroke="#1c1c1c" stroke-width="0.36" textLength="7.9" lengthAdjust="spacingAndGlyphs">R</text>
<text x="441.28" y="35.9" font-size="12" font-family="Liberation Serif, Times New Roman, serif" fill="#1c1c1c" stroke="#1c1c1c" stroke-width="0.36" textLength="8.69" lengthAdjust="spacingAndGlyphs">=</text>
<text x="449.86" y="35.9" font-size="12" font-family="Liberation Serif, Times New Roman, serif" fill="#1c1c1c" stroke="#1c1c1c" stroke-width="0.36" textLength="37.16" lengthAdjust="spacingAndGlyphs">0.98644</text>
<text x="433.46" y="49.9" font-size="12" font-family="Liberation Serif, Times New Roman, serif" fill="#1c1c1c" stroke="#1c1c1c" stroke-width="0.36" textLength="13.62" lengthAdjust="spacingAndGlyphs">Fit</text>
<text x="433.58" y="63.6" font-size="12" font-family="Liberation Serif, Times New Roman, serif" fill="#1c1c1c" stroke="#1c1c1c" stroke-width="0.36" textLength="8.69" lengthAdjust="spacingAndGlyphs">Y</text>
<text x="445.5" y="63.6" font-size="12" font-family="Liberation Serif, Times New Roman, serif" fill="#1c1c1c" stroke="#1c1c1c" stroke-width="0.36" textLength="8.46" lengthAdjust="spacingAndGlyphs">=</text>
<text x="457.86" y="63.6" font-size="12" font-family="Liberation Serif, Times New Roman, serif" fill="#1c1c1c" stroke="#1c1c1c" stroke-width="0.36" textLength="8.49" lengthAdjust="spacingAndGlyphs">T</text>
</g>
</svg>
</body></html>
